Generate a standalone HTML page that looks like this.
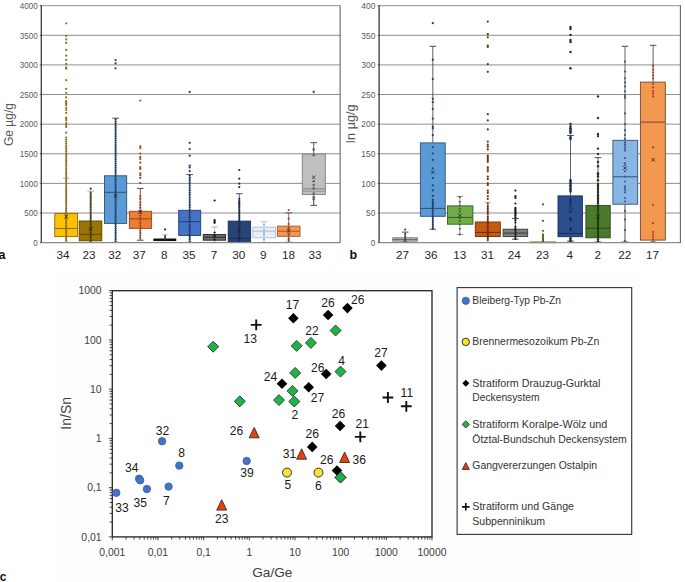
<!DOCTYPE html>
<html><head><meta charset="utf-8"><title>Ge In Ga/Ge charts</title>
<style>
html,body{margin:0;padding:0;background:#fff;width:685px;height:582px;overflow:hidden;}
svg{display:block;font-family:"Liberation Sans", sans-serif;}
</style></head><body>
<svg width="685" height="582" viewBox="0 0 685 582">
<rect x="0" y="0" width="685" height="582" fill="#fff"/>
<rect x="58" y="273.7" width="582.3" height="309" fill="#fdfdfd"/>

<line x1="41.3" y1="5.7" x2="340.1" y2="5.7" stroke="#8f8f8f" stroke-width="1"/>
<line x1="41.3" y1="35.31" x2="340.1" y2="35.31" stroke="#8f8f8f" stroke-width="1"/>
<line x1="41.3" y1="64.92" x2="340.1" y2="64.92" stroke="#8f8f8f" stroke-width="1"/>
<line x1="41.3" y1="94.54" x2="340.1" y2="94.54" stroke="#8f8f8f" stroke-width="1"/>
<line x1="41.3" y1="124.15" x2="340.1" y2="124.15" stroke="#8f8f8f" stroke-width="1"/>
<line x1="41.3" y1="153.76" x2="340.1" y2="153.76" stroke="#8f8f8f" stroke-width="1"/>
<line x1="41.3" y1="183.38" x2="340.1" y2="183.38" stroke="#8f8f8f" stroke-width="1"/>
<line x1="41.3" y1="212.99" x2="340.1" y2="212.99" stroke="#8f8f8f" stroke-width="1"/>
<text x="37.8" y="9" font-size="8.8" fill="#595959" text-anchor="end" textLength="18.01" lengthAdjust="spacingAndGlyphs">4000</text>
<line x1="39.8" y1="5.7" x2="41.3" y2="5.7" stroke="#404040" stroke-width="0.9"/>
<text x="37.8" y="38.61" font-size="8.8" fill="#595959" text-anchor="end" textLength="18.01" lengthAdjust="spacingAndGlyphs">3500</text>
<line x1="39.8" y1="35.31" x2="41.3" y2="35.31" stroke="#404040" stroke-width="0.9"/>
<text x="37.8" y="68.22" font-size="8.8" fill="#595959" text-anchor="end" textLength="18.01" lengthAdjust="spacingAndGlyphs">3000</text>
<line x1="39.8" y1="64.92" x2="41.3" y2="64.92" stroke="#404040" stroke-width="0.9"/>
<text x="37.8" y="97.84" font-size="8.8" fill="#595959" text-anchor="end" textLength="18.01" lengthAdjust="spacingAndGlyphs">2500</text>
<line x1="39.8" y1="94.54" x2="41.3" y2="94.54" stroke="#404040" stroke-width="0.9"/>
<text x="37.8" y="127.45" font-size="8.8" fill="#595959" text-anchor="end" textLength="18.01" lengthAdjust="spacingAndGlyphs">2000</text>
<line x1="39.8" y1="124.15" x2="41.3" y2="124.15" stroke="#404040" stroke-width="0.9"/>
<text x="37.8" y="157.06" font-size="8.8" fill="#595959" text-anchor="end" textLength="18.01" lengthAdjust="spacingAndGlyphs">1500</text>
<line x1="39.8" y1="153.76" x2="41.3" y2="153.76" stroke="#404040" stroke-width="0.9"/>
<text x="37.8" y="186.68" font-size="8.8" fill="#595959" text-anchor="end" textLength="18.01" lengthAdjust="spacingAndGlyphs">1000</text>
<line x1="39.8" y1="183.38" x2="41.3" y2="183.38" stroke="#404040" stroke-width="0.9"/>
<text x="37.8" y="216.29" font-size="8.8" fill="#595959" text-anchor="end" textLength="13.5" lengthAdjust="spacingAndGlyphs">500</text>
<line x1="39.8" y1="212.99" x2="41.3" y2="212.99" stroke="#404040" stroke-width="0.9"/>
<text x="37.8" y="245.9" font-size="8.8" fill="#595959" text-anchor="end" textLength="4.5" lengthAdjust="spacingAndGlyphs">0</text>
<line x1="39.8" y1="242.6" x2="41.3" y2="242.6" stroke="#404040" stroke-width="0.9"/>
<line x1="66.2" y1="178.1" x2="66.2" y2="213.5" stroke="#a8a8a8" stroke-width="0.8"/>
<line x1="62.9" y1="178.1" x2="69.5" y2="178.1" stroke="#a8a8a8" stroke-width="0.9"/>
<line x1="66.2" y1="236.6" x2="66.2" y2="242.4" stroke="#a8a8a8" stroke-width="0.9"/>
<line x1="62.9" y1="242.4" x2="69.5" y2="242.4" stroke="#a8a8a8" stroke-width="0.9"/>
<rect x="54.8" y="213.5" width="22.8" height="23.1" fill="#FFC000" stroke="#8A6A10" stroke-width="0.9"/>
<line x1="54.8" y1="228.5" x2="77.6" y2="228.5" stroke="#8A6A10" stroke-width="1"/>
<circle cx="66.2" cy="23.3" r="1.1" fill="#8B6E1E"/>
<circle cx="66.2" cy="35.9" r="1.1" fill="#8B6E1E"/>
<circle cx="66.2" cy="39.4" r="1.1" fill="#8B6E1E"/>
<circle cx="66.2" cy="42.9" r="1.1" fill="#8B6E1E"/>
<circle cx="66.2" cy="49.9" r="1.1" fill="#8B6E1E"/>
<circle cx="66.2" cy="55.7" r="1.1" fill="#8B6E1E"/>
<circle cx="66.2" cy="59.9" r="1.1" fill="#8B6E1E"/>
<circle cx="66.2" cy="63.9" r="1.1" fill="#8B6E1E"/>
<circle cx="66.2" cy="67.4" r="1.1" fill="#8B6E1E"/>
<circle cx="66.2" cy="68.7" r="1.1" fill="#8B6E1E"/>
<circle cx="66.2" cy="80.2" r="1.1" fill="#8B6E1E"/>
<circle cx="66.2" cy="88.8" r="1.1" fill="#8B6E1E"/>
<circle cx="66.2" cy="92.8" r="1.1" fill="#8B6E1E"/>
<circle cx="66.2" cy="97.4" r="1.1" fill="#8B6E1E"/>
<circle cx="66.2" cy="101.1" r="1.1" fill="#8B6E1E"/>
<circle cx="66.2" cy="102.4" r="1.1" fill="#8B6E1E"/>
<circle cx="66.2" cy="103.8" r="1.1" fill="#8B6E1E"/>
<circle cx="66.2" cy="105.2" r="1.1" fill="#8B6E1E"/>
<circle cx="66.2" cy="107.9" r="1.1" fill="#8B6E1E"/>
<circle cx="66.2" cy="110" r="1.1" fill="#8B6E1E"/>
<circle cx="66.2" cy="112.8" r="1.1" fill="#8B6E1E"/>
<circle cx="66.2" cy="117.6" r="1.1" fill="#8B6E1E"/>
<circle cx="66.2" cy="119" r="1.1" fill="#8B6E1E"/>
<circle cx="66.2" cy="120.3" r="1.1" fill="#8B6E1E"/>
<circle cx="66.2" cy="123.1" r="1.1" fill="#8B6E1E"/>
<circle cx="66.2" cy="124.9" r="1.1" fill="#8B6E1E"/>
<circle cx="66.2" cy="126.9" r="1.1" fill="#8B6E1E"/>
<circle cx="66.2" cy="132.7" r="1.1" fill="#8B6E1E"/>
<circle cx="66.2" cy="137.5" r="1.1" fill="#8B6E1E"/>
<circle cx="66.2" cy="139.6" r="1.1" fill="#8B6E1E"/>
<circle cx="66.2" cy="141.6" r="1.1" fill="#8B6E1E"/>
<circle cx="66.2" cy="143.7" r="1.1" fill="#8B6E1E"/>
<circle cx="66.2" cy="145.8" r="1.1" fill="#8B6E1E"/>
<circle cx="66.2" cy="147.8" r="1.1" fill="#8B6E1E"/>
<circle cx="66.2" cy="149.5" r="1.1" fill="#8B6E1E"/>
<circle cx="66.2" cy="151.4" r="1.1" fill="#8B6E1E"/>
<circle cx="66.2" cy="153.3" r="1.1" fill="#8B6E1E"/>
<circle cx="66.2" cy="155.2" r="1.1" fill="#8B6E1E"/>
<circle cx="66.2" cy="157.1" r="1.1" fill="#8B6E1E"/>
<circle cx="66.2" cy="159" r="1.1" fill="#8B6E1E"/>
<circle cx="66.2" cy="160.9" r="1.1" fill="#8B6E1E"/>
<circle cx="66.2" cy="162.8" r="1.1" fill="#8B6E1E"/>
<circle cx="66.2" cy="164.7" r="1.1" fill="#8B6E1E"/>
<circle cx="66.2" cy="166.6" r="1.1" fill="#8B6E1E"/>
<circle cx="66.2" cy="168.5" r="1.1" fill="#8B6E1E"/>
<circle cx="66.2" cy="170.4" r="1.1" fill="#8B6E1E"/>
<circle cx="66.2" cy="172.3" r="1.1" fill="#8B6E1E"/>
<circle cx="66.2" cy="174.2" r="1.1" fill="#8B6E1E"/>
<circle cx="66.2" cy="176.1" r="1.1" fill="#8B6E1E"/>
<circle cx="66.2" cy="178" r="1.1" fill="#8B6E1E"/>
<circle cx="66.2" cy="179.9" r="1.1" fill="#8B6E1E"/>
<circle cx="66.2" cy="181.8" r="1.1" fill="#8B6E1E"/>
<circle cx="66.2" cy="183.7" r="1.1" fill="#8B6E1E"/>
<circle cx="66.2" cy="185.6" r="1.1" fill="#8B6E1E"/>
<circle cx="66.2" cy="187.5" r="1.1" fill="#8B6E1E"/>
<circle cx="66.2" cy="189.4" r="1.1" fill="#8B6E1E"/>
<circle cx="66.2" cy="191.3" r="1.1" fill="#8B6E1E"/>
<circle cx="66.2" cy="193.2" r="1.1" fill="#8B6E1E"/>
<circle cx="66.2" cy="195.1" r="1.1" fill="#8B6E1E"/>
<circle cx="66.2" cy="197" r="1.1" fill="#8B6E1E"/>
<circle cx="66.2" cy="198.9" r="1.1" fill="#8B6E1E"/>
<circle cx="66.2" cy="200.8" r="1.1" fill="#8B6E1E"/>
<circle cx="66.2" cy="202.7" r="1.1" fill="#8B6E1E"/>
<circle cx="66.2" cy="204.6" r="1.1" fill="#8B6E1E"/>
<circle cx="66.2" cy="206.5" r="1.1" fill="#8B6E1E"/>
<circle cx="66.2" cy="208.4" r="1.1" fill="#8B6E1E"/>
<circle cx="66.2" cy="210.3" r="1.1" fill="#8B6E1E"/>
<circle cx="66.2" cy="212.2" r="1.1" fill="#8B6E1E"/>
<circle cx="66.2" cy="214.1" r="1.1" fill="#8B6E1E"/>
<circle cx="66.2" cy="216" r="1.1" fill="#8B6E1E"/>
<circle cx="66.2" cy="217.9" r="1.1" fill="#8B6E1E"/>
<circle cx="66.2" cy="219.8" r="1.1" fill="#8B6E1E"/>
<circle cx="66.2" cy="221.7" r="1.1" fill="#8B6E1E"/>
<circle cx="66.2" cy="223.6" r="1.1" fill="#8B6E1E"/>
<circle cx="66.2" cy="225.5" r="1.1" fill="#8B6E1E"/>
<circle cx="66.2" cy="227.4" r="1.1" fill="#8B6E1E"/>
<circle cx="66.2" cy="229.3" r="1.1" fill="#8B6E1E"/>
<circle cx="66.2" cy="231.2" r="1.1" fill="#8B6E1E"/>
<circle cx="66.2" cy="233.1" r="1.1" fill="#8B6E1E"/>
<circle cx="66.2" cy="235" r="1.1" fill="#8B6E1E"/>
<circle cx="66.2" cy="236.9" r="1.1" fill="#8B6E1E"/>
<circle cx="66.2" cy="238.8" r="1.1" fill="#8B6E1E"/>
<circle cx="66.2" cy="240.7" r="1.1" fill="#8B6E1E"/>
<path d="M64.4 214.8L68 218.4M68 214.8L64.4 218.4" stroke="#222" stroke-width="0.8" fill="none"/>
<line x1="90.7" y1="191.1" x2="90.7" y2="221" stroke="#a8a8a8" stroke-width="0.8"/>
<line x1="87.4" y1="191.1" x2="94" y2="191.1" stroke="#a8a8a8" stroke-width="0.9"/>
<line x1="90.7" y1="240.8" x2="90.7" y2="242.4" stroke="#a8a8a8" stroke-width="0.9"/>
<line x1="87.4" y1="242.4" x2="94" y2="242.4" stroke="#a8a8a8" stroke-width="0.9"/>
<rect x="79.2" y="221" width="22.6" height="19.8" fill="#9C7400" stroke="#5A4500" stroke-width="0.9"/>
<line x1="79.2" y1="234.3" x2="101.8" y2="234.3" stroke="#5A4500" stroke-width="1"/>
<circle cx="90.7" cy="188.7" r="1.1" fill="#4E3C10"/>
<circle cx="90.7" cy="192.5" r="1.1" fill="#4E3C10"/>
<circle cx="90.7" cy="194.4" r="1.1" fill="#4E3C10"/>
<circle cx="90.7" cy="196.3" r="1.1" fill="#4E3C10"/>
<circle cx="90.7" cy="198.2" r="1.1" fill="#4E3C10"/>
<circle cx="90.7" cy="200.1" r="1.1" fill="#4E3C10"/>
<circle cx="90.7" cy="202" r="1.1" fill="#4E3C10"/>
<circle cx="90.7" cy="203.9" r="1.1" fill="#4E3C10"/>
<circle cx="90.7" cy="205.8" r="1.1" fill="#4E3C10"/>
<circle cx="90.7" cy="207.7" r="1.1" fill="#4E3C10"/>
<circle cx="90.7" cy="209.6" r="1.1" fill="#4E3C10"/>
<circle cx="90.7" cy="211.5" r="1.1" fill="#4E3C10"/>
<circle cx="90.7" cy="213.4" r="1.1" fill="#4E3C10"/>
<circle cx="90.7" cy="215.3" r="1.1" fill="#4E3C10"/>
<circle cx="90.7" cy="217.2" r="1.1" fill="#4E3C10"/>
<circle cx="90.7" cy="219.1" r="1.1" fill="#4E3C10"/>
<circle cx="90.7" cy="221" r="1.1" fill="#4E3C10"/>
<circle cx="90.7" cy="222.9" r="1.1" fill="#4E3C10"/>
<circle cx="90.7" cy="224.8" r="1.1" fill="#4E3C10"/>
<circle cx="90.7" cy="226.7" r="1.1" fill="#4E3C10"/>
<circle cx="90.7" cy="228.6" r="1.1" fill="#4E3C10"/>
<circle cx="90.7" cy="230.5" r="1.1" fill="#4E3C10"/>
<circle cx="90.7" cy="232.4" r="1.1" fill="#4E3C10"/>
<circle cx="90.7" cy="234.3" r="1.1" fill="#4E3C10"/>
<circle cx="90.7" cy="236.2" r="1.1" fill="#4E3C10"/>
<circle cx="90.7" cy="238.1" r="1.1" fill="#4E3C10"/>
<circle cx="90.7" cy="240" r="1.1" fill="#4E3C10"/>
<circle cx="90.7" cy="241.9" r="1.1" fill="#4E3C10"/>
<path d="M88.9 227.2L92.5 230.8M92.5 227.2L88.9 230.8" stroke="#222" stroke-width="0.8" fill="none"/>
<line x1="115.6" y1="118.2" x2="115.6" y2="175.8" stroke="#3a3a3a" stroke-width="0.8"/>
<line x1="112.3" y1="118.2" x2="118.9" y2="118.2" stroke="#3a3a3a" stroke-width="0.9"/>
<line x1="115.6" y1="223.4" x2="115.6" y2="242.4" stroke="#3a3a3a" stroke-width="0.9"/>
<line x1="112.3" y1="242.4" x2="118.9" y2="242.4" stroke="#3a3a3a" stroke-width="0.9"/>
<rect x="104.5" y="175.8" width="22.2" height="47.6" fill="#5B9BD5" stroke="#2F5070" stroke-width="0.9"/>
<line x1="104.5" y1="192.3" x2="126.7" y2="192.3" stroke="#2F5070" stroke-width="1"/>
<circle cx="115.6" cy="60.1" r="1.1" fill="#23406A"/>
<circle cx="115.6" cy="63.4" r="1.1" fill="#23406A"/>
<circle cx="115.6" cy="68.3" r="1.1" fill="#23406A"/>
<circle cx="115.6" cy="119.5" r="1.1" fill="#23406A"/>
<circle cx="115.6" cy="121.6" r="1.1" fill="#23406A"/>
<circle cx="115.6" cy="123.7" r="1.1" fill="#23406A"/>
<circle cx="115.6" cy="125.8" r="1.1" fill="#23406A"/>
<circle cx="115.6" cy="127.9" r="1.1" fill="#23406A"/>
<circle cx="115.6" cy="130" r="1.1" fill="#23406A"/>
<circle cx="115.6" cy="132.1" r="1.1" fill="#23406A"/>
<circle cx="115.6" cy="134.2" r="1.1" fill="#23406A"/>
<circle cx="115.6" cy="136.3" r="1.1" fill="#23406A"/>
<circle cx="115.6" cy="138.4" r="1.1" fill="#23406A"/>
<circle cx="115.6" cy="140.5" r="1.1" fill="#23406A"/>
<circle cx="115.6" cy="142.6" r="1.1" fill="#23406A"/>
<circle cx="115.6" cy="144.7" r="1.1" fill="#23406A"/>
<circle cx="115.6" cy="146.8" r="1.1" fill="#23406A"/>
<circle cx="115.6" cy="148.9" r="1.1" fill="#23406A"/>
<circle cx="115.6" cy="151" r="1.1" fill="#23406A"/>
<circle cx="115.6" cy="153.1" r="1.1" fill="#23406A"/>
<circle cx="115.6" cy="155.2" r="1.1" fill="#23406A"/>
<circle cx="115.6" cy="157.3" r="1.1" fill="#23406A"/>
<circle cx="115.6" cy="159.4" r="1.1" fill="#23406A"/>
<circle cx="115.6" cy="161.5" r="1.1" fill="#23406A"/>
<circle cx="115.6" cy="163.6" r="1.1" fill="#23406A"/>
<circle cx="115.6" cy="165.7" r="1.1" fill="#23406A"/>
<circle cx="115.6" cy="167.8" r="1.1" fill="#23406A"/>
<circle cx="115.6" cy="169.9" r="1.1" fill="#23406A"/>
<circle cx="115.6" cy="172" r="1.1" fill="#23406A"/>
<circle cx="115.6" cy="174.1" r="1.1" fill="#23406A"/>
<circle cx="115.6" cy="176.2" r="1.1" fill="#23406A"/>
<circle cx="115.6" cy="178.3" r="1.1" fill="#23406A"/>
<circle cx="115.6" cy="180.4" r="1.1" fill="#23406A"/>
<circle cx="115.6" cy="182.5" r="1.1" fill="#23406A"/>
<circle cx="115.6" cy="184.6" r="1.1" fill="#23406A"/>
<circle cx="115.6" cy="186.7" r="1.1" fill="#23406A"/>
<circle cx="115.6" cy="188.8" r="1.1" fill="#23406A"/>
<circle cx="115.6" cy="190.9" r="1.1" fill="#23406A"/>
<circle cx="115.6" cy="193" r="1.1" fill="#23406A"/>
<circle cx="115.6" cy="195.1" r="1.1" fill="#23406A"/>
<circle cx="115.6" cy="197.2" r="1.1" fill="#23406A"/>
<circle cx="115.6" cy="199.3" r="1.1" fill="#23406A"/>
<circle cx="115.6" cy="201.4" r="1.1" fill="#23406A"/>
<circle cx="115.6" cy="203.5" r="1.1" fill="#23406A"/>
<circle cx="115.6" cy="205.6" r="1.1" fill="#23406A"/>
<circle cx="115.6" cy="207.7" r="1.1" fill="#23406A"/>
<circle cx="115.6" cy="209.8" r="1.1" fill="#23406A"/>
<circle cx="115.6" cy="211.9" r="1.1" fill="#23406A"/>
<circle cx="115.6" cy="214" r="1.1" fill="#23406A"/>
<circle cx="115.6" cy="216.1" r="1.1" fill="#23406A"/>
<circle cx="115.6" cy="218.2" r="1.1" fill="#23406A"/>
<circle cx="115.6" cy="220.3" r="1.1" fill="#23406A"/>
<circle cx="115.6" cy="222.4" r="1.1" fill="#23406A"/>
<circle cx="115.6" cy="224.5" r="1.1" fill="#23406A"/>
<circle cx="115.6" cy="226.6" r="1.1" fill="#23406A"/>
<circle cx="115.6" cy="228.7" r="1.1" fill="#23406A"/>
<circle cx="115.6" cy="230.8" r="1.1" fill="#23406A"/>
<circle cx="115.6" cy="232.9" r="1.1" fill="#23406A"/>
<circle cx="115.6" cy="235" r="1.1" fill="#23406A"/>
<circle cx="115.6" cy="237.1" r="1.1" fill="#23406A"/>
<circle cx="115.6" cy="239.2" r="1.1" fill="#23406A"/>
<circle cx="115.6" cy="241.3" r="1.1" fill="#23406A"/>
<path d="M113.8 194L117.4 197.6M117.4 194L113.8 197.6" stroke="#222" stroke-width="0.8" fill="none"/>
<line x1="140.3" y1="188.4" x2="140.3" y2="211.3" stroke="#3a3a3a" stroke-width="0.8"/>
<line x1="137" y1="188.4" x2="143.6" y2="188.4" stroke="#3a3a3a" stroke-width="0.9"/>
<line x1="140.3" y1="228.4" x2="140.3" y2="240.2" stroke="#3a3a3a" stroke-width="0.9"/>
<line x1="137" y1="240.2" x2="143.6" y2="240.2" stroke="#3a3a3a" stroke-width="0.9"/>
<rect x="129.3" y="211.3" width="22.3" height="17.1" fill="#ED7D31" stroke="#8A4A20" stroke-width="0.9"/>
<line x1="129.3" y1="218.9" x2="151.6" y2="218.9" stroke="#8A4A20" stroke-width="1"/>
<circle cx="140.3" cy="100.5" r="1.1" fill="#A04020"/>
<circle cx="140.3" cy="146.3" r="1.1" fill="#A04020"/>
<circle cx="140.3" cy="148.1" r="1.1" fill="#A04020"/>
<circle cx="140.3" cy="153.5" r="1.1" fill="#A04020"/>
<circle cx="140.3" cy="157.1" r="1.1" fill="#A04020"/>
<circle cx="140.3" cy="159" r="1.1" fill="#A04020"/>
<circle cx="140.3" cy="162.6" r="1.1" fill="#A04020"/>
<circle cx="140.3" cy="167.1" r="1.1" fill="#A04020"/>
<circle cx="140.3" cy="168.9" r="1.1" fill="#A04020"/>
<circle cx="140.3" cy="173.4" r="1.1" fill="#A04020"/>
<circle cx="140.3" cy="175.2" r="1.1" fill="#A04020"/>
<circle cx="140.3" cy="177.9" r="1.1" fill="#A04020"/>
<circle cx="140.3" cy="183" r="1.1" fill="#A04020"/>
<circle cx="140.3" cy="196" r="1.1" fill="#A04020"/>
<circle cx="140.3" cy="198.7" r="1.1" fill="#A04020"/>
<circle cx="140.3" cy="202.3" r="1.1" fill="#A04020"/>
<circle cx="140.3" cy="205" r="1.1" fill="#A04020"/>
<circle cx="140.3" cy="207.7" r="1.1" fill="#A04020"/>
<circle cx="140.3" cy="210.5" r="1.1" fill="#A04020"/>
<circle cx="140.3" cy="213" r="1.1" fill="#A04020"/>
<circle cx="140.3" cy="215.5" r="1.1" fill="#A04020"/>
<circle cx="140.3" cy="218" r="1.1" fill="#A04020"/>
<circle cx="140.3" cy="220.5" r="1.1" fill="#A04020"/>
<circle cx="140.3" cy="223" r="1.1" fill="#A04020"/>
<circle cx="140.3" cy="225.5" r="1.1" fill="#A04020"/>
<circle cx="140.3" cy="228" r="1.1" fill="#A04020"/>
<circle cx="140.3" cy="230.5" r="1.1" fill="#A04020"/>
<circle cx="140.3" cy="233" r="1.1" fill="#A04020"/>
<circle cx="140.3" cy="235.5" r="1.1" fill="#A04020"/>
<circle cx="140.3" cy="238" r="1.1" fill="#A04020"/>
<path d="M138.5 210.2L142.1 213.8M142.1 210.2L138.5 213.8" stroke="#222" stroke-width="0.8" fill="none"/>
<line x1="165.1" y1="234.5" x2="165.1" y2="239" stroke="#c8c8c8" stroke-width="0.8"/>
<line x1="161.8" y1="234.5" x2="168.4" y2="234.5" stroke="#c8c8c8" stroke-width="0.9"/>
<line x1="165.1" y1="240.6" x2="165.1" y2="242.6" stroke="#c8c8c8" stroke-width="0.9"/>
<line x1="161.8" y1="242.6" x2="168.4" y2="242.6" stroke="#c8c8c8" stroke-width="0.9"/>
<rect x="153.9" y="239" width="21.9" height="1.6" fill="#1a1a1a" stroke="#000" stroke-width="0.9"/>
<circle cx="165.1" cy="229.4" r="1.1" fill="#333"/>
<circle cx="165.1" cy="236" r="1.1" fill="#333"/>
<circle cx="165.1" cy="238" r="1.1" fill="#333"/>
<circle cx="165.1" cy="240" r="1.1" fill="#333"/>
<line x1="189.7" y1="174.6" x2="189.7" y2="210.3" stroke="#3a3a3a" stroke-width="0.8"/>
<line x1="186.4" y1="174.6" x2="193" y2="174.6" stroke="#3a3a3a" stroke-width="0.9"/>
<line x1="189.7" y1="235.5" x2="189.7" y2="242.4" stroke="#3a3a3a" stroke-width="0.9"/>
<line x1="186.4" y1="242.4" x2="193" y2="242.4" stroke="#3a3a3a" stroke-width="0.9"/>
<rect x="178.7" y="210.3" width="22" height="25.2" fill="#4472C4" stroke="#22407A" stroke-width="0.9"/>
<line x1="178.7" y1="221.7" x2="200.7" y2="221.7" stroke="#22407A" stroke-width="1"/>
<circle cx="189.7" cy="91.9" r="1.1" fill="#1F3864"/>
<circle cx="189.7" cy="142.8" r="1.1" fill="#1F3864"/>
<circle cx="189.7" cy="149.1" r="1.1" fill="#1F3864"/>
<circle cx="189.7" cy="155.7" r="1.1" fill="#1F3864"/>
<circle cx="189.7" cy="165.5" r="1.1" fill="#1F3864"/>
<circle cx="189.7" cy="167.4" r="1.1" fill="#1F3864"/>
<circle cx="189.7" cy="171.2" r="1.1" fill="#1F3864"/>
<circle cx="189.7" cy="175.5" r="1.1" fill="#1F3864"/>
<circle cx="189.7" cy="177.95" r="1.1" fill="#1F3864"/>
<circle cx="189.7" cy="180.4" r="1.1" fill="#1F3864"/>
<circle cx="189.7" cy="182.85" r="1.1" fill="#1F3864"/>
<circle cx="189.7" cy="185.3" r="1.1" fill="#1F3864"/>
<circle cx="189.7" cy="187.75" r="1.1" fill="#1F3864"/>
<circle cx="189.7" cy="190.2" r="1.1" fill="#1F3864"/>
<circle cx="189.7" cy="192.65" r="1.1" fill="#1F3864"/>
<circle cx="189.7" cy="195.1" r="1.1" fill="#1F3864"/>
<circle cx="189.7" cy="197.55" r="1.1" fill="#1F3864"/>
<circle cx="189.7" cy="200" r="1.1" fill="#1F3864"/>
<circle cx="189.7" cy="202.45" r="1.1" fill="#1F3864"/>
<circle cx="189.7" cy="204.9" r="1.1" fill="#1F3864"/>
<circle cx="189.7" cy="207.35" r="1.1" fill="#1F3864"/>
<circle cx="189.7" cy="209.8" r="1.1" fill="#1F3864"/>
<circle cx="189.7" cy="212.25" r="1.1" fill="#1F3864"/>
<circle cx="189.7" cy="214.7" r="1.1" fill="#1F3864"/>
<circle cx="189.7" cy="217.15" r="1.1" fill="#1F3864"/>
<circle cx="189.7" cy="219.6" r="1.1" fill="#1F3864"/>
<circle cx="189.7" cy="222.05" r="1.1" fill="#1F3864"/>
<circle cx="189.7" cy="224.5" r="1.1" fill="#1F3864"/>
<circle cx="189.7" cy="226.95" r="1.1" fill="#1F3864"/>
<circle cx="189.7" cy="229.4" r="1.1" fill="#1F3864"/>
<circle cx="189.7" cy="231.85" r="1.1" fill="#1F3864"/>
<circle cx="189.7" cy="234.3" r="1.1" fill="#1F3864"/>
<circle cx="189.7" cy="236.75" r="1.1" fill="#1F3864"/>
<circle cx="189.7" cy="239.2" r="1.1" fill="#1F3864"/>
<circle cx="189.7" cy="241.65" r="1.1" fill="#1F3864"/>
<line x1="214.6" y1="227" x2="214.6" y2="234.5" stroke="#aaa" stroke-width="0.8"/>
<line x1="211.3" y1="227" x2="217.9" y2="227" stroke="#aaa" stroke-width="0.9"/>
<line x1="214.6" y1="240.2" x2="214.6" y2="242.4" stroke="#aaa" stroke-width="0.9"/>
<line x1="211.3" y1="242.4" x2="217.9" y2="242.4" stroke="#aaa" stroke-width="0.9"/>
<rect x="203.3" y="234.5" width="22.3" height="5.7" fill="#6E6E6E" stroke="#262626" stroke-width="0.9"/>
<line x1="203.3" y1="237.2" x2="225.6" y2="237.2" stroke="#262626" stroke-width="1"/>
<circle cx="214.6" cy="200.5" r="1.1" fill="#111"/>
<circle cx="214.6" cy="220" r="1.1" fill="#111"/>
<circle cx="214.6" cy="221.4" r="1.1" fill="#111"/>
<circle cx="214.6" cy="222.8" r="1.1" fill="#111"/>
<circle cx="214.6" cy="232.5" r="1.1" fill="#111"/>
<circle cx="214.6" cy="236" r="1.1" fill="#111"/>
<circle cx="214.6" cy="239.5" r="1.1" fill="#111"/>
<path d="M212.8 234.6L216.4 238.2M216.4 234.6L212.8 238.2" stroke="#222" stroke-width="0.8" fill="none"/>
<line x1="239.3" y1="193.7" x2="239.3" y2="221.1" stroke="#3a3a3a" stroke-width="0.8"/>
<line x1="236" y1="193.7" x2="242.6" y2="193.7" stroke="#3a3a3a" stroke-width="0.9"/>
<rect x="228.2" y="221.1" width="22.4" height="21.4" fill="#264478" stroke="#1A2F55" stroke-width="0.9"/>
<line x1="228.2" y1="238.3" x2="250.6" y2="238.3" stroke="#1A2F55" stroke-width="1"/>
<circle cx="239.3" cy="170" r="1.1" fill="#1A2A50"/>
<circle cx="239.3" cy="178.7" r="1.1" fill="#1A2A50"/>
<circle cx="239.3" cy="183.7" r="1.1" fill="#1A2A50"/>
<circle cx="239.3" cy="187.1" r="1.1" fill="#1A2A50"/>
<circle cx="239.3" cy="198.8" r="1.1" fill="#1A2A50"/>
<circle cx="239.3" cy="201" r="1.1" fill="#1A2A50"/>
<circle cx="239.3" cy="202.5" r="1.1" fill="#1A2A50"/>
<circle cx="239.3" cy="203.9" r="1.1" fill="#1A2A50"/>
<circle cx="239.3" cy="205.4" r="1.1" fill="#1A2A50"/>
<circle cx="239.3" cy="207.4" r="1.1" fill="#1A2A50"/>
<circle cx="239.3" cy="209.4" r="1.1" fill="#1A2A50"/>
<circle cx="239.3" cy="211.4" r="1.1" fill="#1A2A50"/>
<circle cx="239.3" cy="213.4" r="1.1" fill="#1A2A50"/>
<circle cx="239.3" cy="215.4" r="1.1" fill="#1A2A50"/>
<circle cx="239.3" cy="217.4" r="1.1" fill="#1A2A50"/>
<circle cx="239.3" cy="219.4" r="1.1" fill="#1A2A50"/>
<circle cx="239.3" cy="221.4" r="1.1" fill="#1A2A50"/>
<circle cx="239.3" cy="223.4" r="1.1" fill="#1A2A50"/>
<circle cx="239.3" cy="225.4" r="1.1" fill="#1A2A50"/>
<circle cx="239.3" cy="227.4" r="1.1" fill="#1A2A50"/>
<circle cx="239.3" cy="229.4" r="1.1" fill="#1A2A50"/>
<circle cx="239.3" cy="231.4" r="1.1" fill="#1A2A50"/>
<circle cx="239.3" cy="233.4" r="1.1" fill="#1A2A50"/>
<circle cx="239.3" cy="235.4" r="1.1" fill="#1A2A50"/>
<circle cx="239.3" cy="237.4" r="1.1" fill="#1A2A50"/>
<circle cx="239.3" cy="239.4" r="1.1" fill="#1A2A50"/>
<circle cx="239.3" cy="241.4" r="1.1" fill="#1A2A50"/>
<path d="M237.5 228.9L241.1 232.5M241.1 228.9L237.5 232.5" stroke="#222" stroke-width="0.8" fill="none"/>
<line x1="264" y1="221.7" x2="264" y2="227.1" stroke="#9DC3E6" stroke-width="0.8"/>
<line x1="260.7" y1="221.7" x2="267.3" y2="221.7" stroke="#9DC3E6" stroke-width="0.9"/>
<line x1="264" y1="237.8" x2="264" y2="242.4" stroke="#9DC3E6" stroke-width="0.9"/>
<line x1="260.7" y1="242.4" x2="267.3" y2="242.4" stroke="#9DC3E6" stroke-width="0.9"/>
<rect x="252.8" y="227.1" width="22.8" height="10.7" fill="#EDEDED" stroke="#9DC3E6" stroke-width="0.9"/>
<line x1="252.8" y1="231.2" x2="275.6" y2="231.2" stroke="#9DC3E6" stroke-width="1"/>
<circle cx="264" cy="224.5" r="1.1" fill="#8DB3D6"/>
<circle cx="264" cy="230.1" r="1.1" fill="#8DB3D6"/>
<circle cx="264" cy="232.9" r="1.1" fill="#8DB3D6"/>
<circle cx="264" cy="235.3" r="1.1" fill="#8DB3D6"/>
<circle cx="264" cy="239.5" r="1.1" fill="#8DB3D6"/>
<line x1="288.7" y1="212.9" x2="288.7" y2="226.1" stroke="#555" stroke-width="0.8"/>
<line x1="285.4" y1="212.9" x2="292" y2="212.9" stroke="#555" stroke-width="0.9"/>
<line x1="288.7" y1="236.3" x2="288.7" y2="242.2" stroke="#555" stroke-width="0.9"/>
<line x1="285.4" y1="242.2" x2="292" y2="242.2" stroke="#555" stroke-width="0.9"/>
<rect x="277.4" y="226.1" width="22.6" height="10.2" fill="#F5984F" stroke="#A0582A" stroke-width="0.9"/>
<line x1="277.4" y1="231.2" x2="300" y2="231.2" stroke="#A0582A" stroke-width="1"/>
<circle cx="288.7" cy="210" r="1.1" fill="#A0461A"/>
<circle cx="288.7" cy="218.5" r="1.1" fill="#A0461A"/>
<circle cx="288.7" cy="224.1" r="1.1" fill="#A0461A"/>
<circle cx="288.7" cy="227.3" r="1.1" fill="#A0461A"/>
<circle cx="288.7" cy="228.9" r="1.1" fill="#A0461A"/>
<circle cx="288.7" cy="233.7" r="1.1" fill="#A0461A"/>
<circle cx="288.7" cy="235.3" r="1.1" fill="#A0461A"/>
<circle cx="288.7" cy="238.6" r="1.1" fill="#A0461A"/>
<circle cx="288.7" cy="240.2" r="1.1" fill="#A0461A"/>
<path d="M286.9 229.1L290.5 232.7M290.5 229.1L286.9 232.7" stroke="#222" stroke-width="0.8" fill="none"/>
<line x1="313.7" y1="142.7" x2="313.7" y2="154.1" stroke="#3a3a3a" stroke-width="0.8"/>
<line x1="310.4" y1="142.7" x2="317" y2="142.7" stroke="#3a3a3a" stroke-width="0.9"/>
<line x1="313.7" y1="194.6" x2="313.7" y2="205.4" stroke="#3a3a3a" stroke-width="0.9"/>
<line x1="310.4" y1="205.4" x2="317" y2="205.4" stroke="#3a3a3a" stroke-width="0.9"/>
<rect x="302.3" y="154.1" width="23" height="40.5" fill="#BFBFBF" stroke="#7F7F7F" stroke-width="0.9"/>
<line x1="302.3" y1="188.9" x2="325.3" y2="188.9" stroke="#7F7F7F" stroke-width="1"/>
<circle cx="313.7" cy="91.9" r="1.3" fill="#666"/>
<circle cx="313.7" cy="149.4" r="1.3" fill="#666"/>
<circle cx="313.7" cy="155.3" r="1.3" fill="#666"/>
<circle cx="313.7" cy="181.3" r="1.3" fill="#666"/>
<circle cx="313.7" cy="185" r="1.3" fill="#666"/>
<circle cx="313.7" cy="188.4" r="1.3" fill="#666"/>
<circle cx="313.7" cy="193.6" r="1.3" fill="#666"/>
<circle cx="313.7" cy="197.3" r="1.3" fill="#666"/>
<circle cx="313.7" cy="199.2" r="1.3" fill="#666"/>
<path d="M311.9 175.5L315.5 179.1M315.5 175.5L311.9 179.1" stroke="#222" stroke-width="0.8" fill="none"/>
<line x1="302.3" y1="191.3" x2="325.3" y2="191.3" stroke="#8a8a8a" stroke-width="0.8"/>
<line x1="41.3" y1="5.3" x2="41.3" y2="243" stroke="#3a3a3a" stroke-width="1.3"/>
<line x1="41.3" y1="242.6" x2="340.1" y2="242.6" stroke="#8c8c8c" stroke-width="1.1"/>
<line x1="340.1" y1="5.2" x2="340.1" y2="243.1" stroke="#666" stroke-width="1.1"/>
<text x="63.1" y="258.6" font-size="11.7" fill="#262626" text-anchor="middle">34</text>
<text x="88.9" y="258.6" font-size="11.7" fill="#262626" text-anchor="middle">23</text>
<text x="114.7" y="258.6" font-size="11.7" fill="#262626" text-anchor="middle">32</text>
<text x="139.2" y="258.6" font-size="11.7" fill="#262626" text-anchor="middle">37</text>
<text x="164.2" y="258.6" font-size="11.7" fill="#262626" text-anchor="middle">8</text>
<text x="189" y="258.6" font-size="11.7" fill="#262626" text-anchor="middle">35</text>
<text x="214" y="258.6" font-size="11.7" fill="#262626" text-anchor="middle">7</text>
<text x="238.8" y="258.6" font-size="11.7" fill="#262626" text-anchor="middle">30</text>
<text x="263.3" y="258.6" font-size="11.7" fill="#262626" text-anchor="middle">9</text>
<text x="288.6" y="258.6" font-size="11.7" fill="#262626" text-anchor="middle">18</text>
<text x="315.0" y="258.6" font-size="11.7" fill="#262626" text-anchor="middle">33</text>
<text x="-1.6" y="259.2" font-size="12.5" font-weight="bold" fill="#111">a</text>
<text transform="translate(12.9,124.5) rotate(-90)" font-size="12" fill="#595959" text-anchor="middle">Ge µg/g</text>
<line x1="379.1" y1="5.7" x2="680.4" y2="5.7" stroke="#8f8f8f" stroke-width="1"/>
<line x1="379.1" y1="35.31" x2="680.4" y2="35.31" stroke="#8f8f8f" stroke-width="1"/>
<line x1="379.1" y1="64.92" x2="680.4" y2="64.92" stroke="#8f8f8f" stroke-width="1"/>
<line x1="379.1" y1="94.54" x2="680.4" y2="94.54" stroke="#8f8f8f" stroke-width="1"/>
<line x1="379.1" y1="124.15" x2="680.4" y2="124.15" stroke="#8f8f8f" stroke-width="1"/>
<line x1="379.1" y1="153.76" x2="680.4" y2="153.76" stroke="#8f8f8f" stroke-width="1"/>
<line x1="379.1" y1="183.38" x2="680.4" y2="183.38" stroke="#8f8f8f" stroke-width="1"/>
<line x1="379.1" y1="212.99" x2="680.4" y2="212.99" stroke="#8f8f8f" stroke-width="1"/>
<text x="375.3" y="9" font-size="8.9" fill="#595959" text-anchor="end" textLength="13.95" lengthAdjust="spacingAndGlyphs">400</text>
<line x1="377.7" y1="5.7" x2="379.1" y2="5.7" stroke="#404040" stroke-width="0.9"/>
<text x="375.3" y="38.61" font-size="8.9" fill="#595959" text-anchor="end" textLength="13.95" lengthAdjust="spacingAndGlyphs">350</text>
<line x1="377.7" y1="35.31" x2="379.1" y2="35.31" stroke="#404040" stroke-width="0.9"/>
<text x="375.3" y="68.22" font-size="8.9" fill="#595959" text-anchor="end" textLength="13.95" lengthAdjust="spacingAndGlyphs">300</text>
<line x1="377.7" y1="64.92" x2="379.1" y2="64.92" stroke="#404040" stroke-width="0.9"/>
<text x="375.3" y="97.84" font-size="8.9" fill="#595959" text-anchor="end" textLength="13.95" lengthAdjust="spacingAndGlyphs">250</text>
<line x1="377.7" y1="94.54" x2="379.1" y2="94.54" stroke="#404040" stroke-width="0.9"/>
<text x="375.3" y="127.45" font-size="8.9" fill="#595959" text-anchor="end" textLength="13.95" lengthAdjust="spacingAndGlyphs">200</text>
<line x1="377.7" y1="124.15" x2="379.1" y2="124.15" stroke="#404040" stroke-width="0.9"/>
<text x="375.3" y="157.06" font-size="8.9" fill="#595959" text-anchor="end" textLength="13.95" lengthAdjust="spacingAndGlyphs">150</text>
<line x1="377.7" y1="153.76" x2="379.1" y2="153.76" stroke="#404040" stroke-width="0.9"/>
<text x="375.3" y="186.68" font-size="8.9" fill="#595959" text-anchor="end" textLength="13.95" lengthAdjust="spacingAndGlyphs">100</text>
<line x1="377.7" y1="183.38" x2="379.1" y2="183.38" stroke="#404040" stroke-width="0.9"/>
<text x="375.3" y="216.29" font-size="8.9" fill="#595959" text-anchor="end" textLength="9.3" lengthAdjust="spacingAndGlyphs">50</text>
<line x1="377.7" y1="212.99" x2="379.1" y2="212.99" stroke="#404040" stroke-width="0.9"/>
<text x="375.3" y="245.9" font-size="8.9" fill="#595959" text-anchor="end" textLength="4.65" lengthAdjust="spacingAndGlyphs">0</text>
<line x1="377.7" y1="242.6" x2="379.1" y2="242.6" stroke="#404040" stroke-width="0.9"/>
<line x1="405.2" y1="232.1" x2="405.2" y2="237.8" stroke="#3a3a3a" stroke-width="0.8"/>
<line x1="401.9" y1="232.1" x2="408.5" y2="232.1" stroke="#3a3a3a" stroke-width="0.9"/>
<line x1="405.2" y1="241.1" x2="405.2" y2="242.2" stroke="#3a3a3a" stroke-width="0.9"/>
<line x1="401.9" y1="242.2" x2="408.5" y2="242.2" stroke="#3a3a3a" stroke-width="0.9"/>
<rect x="392.8" y="237.8" width="24.5" height="3.3" fill="#BDBDBD" stroke="#6F6F6F" stroke-width="0.9"/>
<line x1="392.8" y1="239.5" x2="417.3" y2="239.5" stroke="#6F6F6F" stroke-width="1"/>
<circle cx="405.2" cy="229.5" r="1.1" fill="#404040"/>
<circle cx="405.2" cy="234" r="1.1" fill="#404040"/>
<circle cx="405.2" cy="236.5" r="1.1" fill="#404040"/>
<circle cx="405.2" cy="239" r="1.1" fill="#404040"/>
<circle cx="405.2" cy="241" r="1.1" fill="#404040"/>
<line x1="432.8" y1="46.3" x2="432.8" y2="142.9" stroke="#3a3a3a" stroke-width="0.8"/>
<line x1="429.5" y1="46.3" x2="436.1" y2="46.3" stroke="#3a3a3a" stroke-width="0.9"/>
<line x1="432.8" y1="216.3" x2="432.8" y2="229.2" stroke="#3a3a3a" stroke-width="0.9"/>
<line x1="429.5" y1="229.2" x2="436.1" y2="229.2" stroke="#3a3a3a" stroke-width="0.9"/>
<rect x="420.4" y="142.9" width="24.8" height="73.4" fill="#5B9BD5" stroke="#2F5070" stroke-width="0.9"/>
<line x1="420.4" y1="208.4" x2="445.2" y2="208.4" stroke="#2F5070" stroke-width="1"/>
<circle cx="432.8" cy="23.2" r="1.1" fill="#23406A"/>
<circle cx="432.8" cy="59.7" r="1.1" fill="#23406A"/>
<circle cx="432.8" cy="79.1" r="1.1" fill="#23406A"/>
<circle cx="432.8" cy="98.8" r="1.1" fill="#23406A"/>
<circle cx="432.8" cy="102.1" r="1.1" fill="#23406A"/>
<circle cx="432.8" cy="109" r="1.1" fill="#23406A"/>
<circle cx="432.8" cy="118.6" r="1.1" fill="#23406A"/>
<circle cx="432.8" cy="126.6" r="1.1" fill="#23406A"/>
<circle cx="432.8" cy="128.3" r="1.1" fill="#23406A"/>
<circle cx="432.8" cy="135.2" r="1.1" fill="#23406A"/>
<circle cx="432.8" cy="147" r="1.1" fill="#23406A"/>
<circle cx="432.8" cy="153.5" r="1.1" fill="#23406A"/>
<circle cx="432.8" cy="159.9" r="1.1" fill="#23406A"/>
<circle cx="432.8" cy="168.4" r="1.1" fill="#23406A"/>
<circle cx="432.8" cy="178.2" r="1.1" fill="#23406A"/>
<circle cx="432.8" cy="185.3" r="1.1" fill="#23406A"/>
<circle cx="432.8" cy="190.4" r="1.1" fill="#23406A"/>
<circle cx="432.8" cy="195.9" r="1.1" fill="#23406A"/>
<circle cx="432.8" cy="199.8" r="1.1" fill="#23406A"/>
<circle cx="432.8" cy="201.9" r="1.1" fill="#23406A"/>
<circle cx="432.8" cy="203.6" r="1.1" fill="#23406A"/>
<circle cx="432.8" cy="205.3" r="1.1" fill="#23406A"/>
<circle cx="432.8" cy="207" r="1.1" fill="#23406A"/>
<circle cx="432.8" cy="208.8" r="1.1" fill="#23406A"/>
<circle cx="432.8" cy="210.8" r="1.1" fill="#23406A"/>
<circle cx="432.8" cy="212.8" r="1.1" fill="#23406A"/>
<circle cx="432.8" cy="214.8" r="1.1" fill="#23406A"/>
<circle cx="432.8" cy="216.8" r="1.1" fill="#23406A"/>
<circle cx="432.8" cy="218.8" r="1.1" fill="#23406A"/>
<circle cx="432.8" cy="220.8" r="1.1" fill="#23406A"/>
<circle cx="432.8" cy="222.8" r="1.1" fill="#23406A"/>
<circle cx="432.8" cy="224.8" r="1.1" fill="#23406A"/>
<circle cx="432.8" cy="226.8" r="1.1" fill="#23406A"/>
<circle cx="432.8" cy="228.8" r="1.1" fill="#23406A"/>
<path d="M431 170.6L434.6 174.2M434.6 170.6L431 174.2" stroke="#222" stroke-width="0.8" fill="none"/>
<line x1="459.8" y1="196.4" x2="459.8" y2="205.9" stroke="#8a8a8a" stroke-width="0.8"/>
<line x1="456.5" y1="196.4" x2="463.1" y2="196.4" stroke="#8a8a8a" stroke-width="0.9"/>
<line x1="459.8" y1="224.2" x2="459.8" y2="234.6" stroke="#8a8a8a" stroke-width="0.9"/>
<line x1="456.5" y1="234.6" x2="463.1" y2="234.6" stroke="#8a8a8a" stroke-width="0.9"/>
<rect x="447.4" y="205.9" width="25.5" height="18.3" fill="#70AD47" stroke="#3A5A25" stroke-width="0.9"/>
<line x1="447.4" y1="217.4" x2="472.9" y2="217.4" stroke="#3A5A25" stroke-width="1"/>
<circle cx="459.8" cy="197.1" r="1.1" fill="#3C6E28"/>
<circle cx="459.8" cy="201.8" r="1.1" fill="#3C6E28"/>
<circle cx="459.8" cy="205.6" r="1.1" fill="#3C6E28"/>
<circle cx="459.8" cy="208.9" r="1.1" fill="#3C6E28"/>
<circle cx="459.8" cy="211.7" r="1.1" fill="#3C6E28"/>
<circle cx="459.8" cy="218.4" r="1.1" fill="#3C6E28"/>
<circle cx="459.8" cy="221.2" r="1.1" fill="#3C6E28"/>
<circle cx="459.8" cy="224.5" r="1.1" fill="#3C6E28"/>
<circle cx="459.8" cy="228.8" r="1.1" fill="#3C6E28"/>
<circle cx="459.8" cy="234.4" r="1.1" fill="#3C6E28"/>
<path d="M458 213.7L461.6 217.3M461.6 213.7L458 217.3" stroke="#222" stroke-width="0.8" fill="none"/>
<line x1="487.8" y1="202.2" x2="487.8" y2="222" stroke="#b0b0b0" stroke-width="0.8"/>
<line x1="484.5" y1="202.2" x2="491.1" y2="202.2" stroke="#b0b0b0" stroke-width="0.9"/>
<line x1="487.8" y1="236.5" x2="487.8" y2="242.5" stroke="#b0b0b0" stroke-width="0.9"/>
<line x1="484.5" y1="242.5" x2="491.1" y2="242.5" stroke="#b0b0b0" stroke-width="0.9"/>
<rect x="475.3" y="222" width="25" height="14.5" fill="#C55A11" stroke="#6A300A" stroke-width="0.9"/>
<line x1="475.3" y1="232.4" x2="500.3" y2="232.4" stroke="#6A300A" stroke-width="1"/>
<circle cx="487.8" cy="21.6" r="1.1" fill="#6B2A0A"/>
<circle cx="487.8" cy="34.2" r="1.1" fill="#6B2A0A"/>
<circle cx="487.8" cy="37.3" r="1.1" fill="#6B2A0A"/>
<circle cx="487.8" cy="45.6" r="1.1" fill="#6B2A0A"/>
<circle cx="487.8" cy="47" r="1.1" fill="#6B2A0A"/>
<circle cx="487.8" cy="64.2" r="1.1" fill="#6B2A0A"/>
<circle cx="487.8" cy="71.8" r="1.1" fill="#6B2A0A"/>
<circle cx="487.8" cy="114.2" r="1.1" fill="#6B2A0A"/>
<circle cx="487.8" cy="120.4" r="1.1" fill="#6B2A0A"/>
<circle cx="487.8" cy="129.4" r="1.1" fill="#6B2A0A"/>
<circle cx="487.8" cy="141.5" r="1.1" fill="#6B2A0A"/>
<circle cx="487.8" cy="144.6" r="1.1" fill="#6B2A0A"/>
<circle cx="487.8" cy="146.7" r="1.1" fill="#6B2A0A"/>
<circle cx="487.8" cy="149.4" r="1.1" fill="#6B2A0A"/>
<circle cx="487.8" cy="155.6" r="1.1" fill="#6B2A0A"/>
<circle cx="487.8" cy="157" r="1.1" fill="#6B2A0A"/>
<circle cx="487.8" cy="158.5" r="1.1" fill="#6B2A0A"/>
<circle cx="487.8" cy="160.1" r="1.1" fill="#6B2A0A"/>
<circle cx="487.8" cy="161.8" r="1.1" fill="#6B2A0A"/>
<circle cx="487.8" cy="167.4" r="1.1" fill="#6B2A0A"/>
<circle cx="487.8" cy="169.4" r="1.1" fill="#6B2A0A"/>
<circle cx="487.8" cy="171.5" r="1.1" fill="#6B2A0A"/>
<circle cx="487.8" cy="176.7" r="1.1" fill="#6B2A0A"/>
<circle cx="487.8" cy="179.1" r="1.1" fill="#6B2A0A"/>
<circle cx="487.8" cy="183.3" r="1.1" fill="#6B2A0A"/>
<circle cx="487.8" cy="184.9" r="1.1" fill="#6B2A0A"/>
<circle cx="487.8" cy="190.7" r="1.1" fill="#6B2A0A"/>
<circle cx="487.8" cy="192.8" r="1.1" fill="#6B2A0A"/>
<circle cx="487.8" cy="196.3" r="1.1" fill="#6B2A0A"/>
<circle cx="487.8" cy="199" r="1.1" fill="#6B2A0A"/>
<circle cx="487.8" cy="203.5" r="1.1" fill="#6B2A0A"/>
<circle cx="487.8" cy="206" r="1.1" fill="#6B2A0A"/>
<circle cx="487.8" cy="208.1" r="1.1" fill="#6B2A0A"/>
<circle cx="487.8" cy="210.1" r="1.1" fill="#6B2A0A"/>
<circle cx="487.8" cy="212.2" r="1.1" fill="#6B2A0A"/>
<circle cx="487.8" cy="214.3" r="1.1" fill="#6B2A0A"/>
<circle cx="487.8" cy="216.9" r="1.1" fill="#6B2A0A"/>
<circle cx="487.8" cy="219" r="1.1" fill="#6B2A0A"/>
<circle cx="487.8" cy="221.1" r="1.1" fill="#6B2A0A"/>
<circle cx="487.8" cy="223.2" r="1.1" fill="#6B2A0A"/>
<circle cx="487.8" cy="225.3" r="1.1" fill="#6B2A0A"/>
<circle cx="487.8" cy="227.4" r="1.1" fill="#6B2A0A"/>
<circle cx="487.8" cy="229.5" r="1.1" fill="#6B2A0A"/>
<circle cx="487.8" cy="231.6" r="1.1" fill="#6B2A0A"/>
<circle cx="487.8" cy="233.7" r="1.1" fill="#6B2A0A"/>
<circle cx="487.8" cy="235.8" r="1.1" fill="#6B2A0A"/>
<circle cx="487.8" cy="237.9" r="1.1" fill="#6B2A0A"/>
<circle cx="487.8" cy="240" r="1.1" fill="#6B2A0A"/>
<line x1="515.4" y1="218.5" x2="515.4" y2="229.2" stroke="#3a3a3a" stroke-width="0.8"/>
<line x1="512.1" y1="218.5" x2="518.7" y2="218.5" stroke="#3a3a3a" stroke-width="0.9"/>
<line x1="515.4" y1="236.6" x2="515.4" y2="239.2" stroke="#3a3a3a" stroke-width="0.9"/>
<line x1="512.1" y1="239.2" x2="518.7" y2="239.2" stroke="#3a3a3a" stroke-width="0.9"/>
<rect x="503.1" y="229.2" width="24.6" height="7.4" fill="#7F7F7F" stroke="#3A3A3A" stroke-width="0.9"/>
<line x1="503.1" y1="233.1" x2="527.7" y2="233.1" stroke="#3A3A3A" stroke-width="1"/>
<circle cx="515.4" cy="190.6" r="1.1" fill="#1a1a1a"/>
<circle cx="515.4" cy="196.2" r="1.1" fill="#1a1a1a"/>
<circle cx="515.4" cy="197.9" r="1.1" fill="#1a1a1a"/>
<circle cx="515.4" cy="203.5" r="1.1" fill="#1a1a1a"/>
<circle cx="515.4" cy="207.9" r="1.1" fill="#1a1a1a"/>
<circle cx="515.4" cy="209" r="1.1" fill="#1a1a1a"/>
<circle cx="515.4" cy="210.2" r="1.1" fill="#1a1a1a"/>
<circle cx="515.4" cy="211.3" r="1.1" fill="#1a1a1a"/>
<circle cx="515.4" cy="212.4" r="1.1" fill="#1a1a1a"/>
<circle cx="515.4" cy="213.5" r="1.1" fill="#1a1a1a"/>
<circle cx="515.4" cy="214.6" r="1.1" fill="#1a1a1a"/>
<circle cx="515.4" cy="215.8" r="1.1" fill="#1a1a1a"/>
<circle cx="515.4" cy="217.4" r="1.1" fill="#1a1a1a"/>
<circle cx="515.4" cy="220.2" r="1.1" fill="#1a1a1a"/>
<circle cx="515.4" cy="222.5" r="1.1" fill="#1a1a1a"/>
<circle cx="515.4" cy="226.9" r="1.1" fill="#1a1a1a"/>
<circle cx="515.4" cy="229.2" r="1.1" fill="#1a1a1a"/>
<circle cx="515.4" cy="230.8" r="1.1" fill="#1a1a1a"/>
<circle cx="515.4" cy="232.5" r="1.1" fill="#1a1a1a"/>
<circle cx="515.4" cy="234.7" r="1.1" fill="#1a1a1a"/>
<circle cx="515.4" cy="237" r="1.1" fill="#1a1a1a"/>
<circle cx="515.4" cy="239" r="1.1" fill="#1a1a1a"/>
<rect x="530.2" y="241.9" width="25.7" height="0.8" fill="#A89050" stroke="#8A7A50" stroke-width="0.9"/>
<circle cx="543" cy="204.4" r="1.1" fill="#6B5A20"/>
<circle cx="543" cy="220.8" r="1.1" fill="#6B5A20"/>
<circle cx="543" cy="230.8" r="1.1" fill="#6B5A20"/>
<circle cx="543" cy="234.7" r="1.1" fill="#6B5A20"/>
<circle cx="543" cy="235.9" r="1.1" fill="#6B5A20"/>
<circle cx="543" cy="237" r="1.1" fill="#6B5A20"/>
<circle cx="543" cy="238.1" r="1.1" fill="#6B5A20"/>
<circle cx="543" cy="239.2" r="1.1" fill="#6B5A20"/>
<circle cx="543" cy="240.3" r="1.1" fill="#6B5A20"/>
<circle cx="543" cy="241.5" r="1.1" fill="#6B5A20"/>
<line x1="570.5" y1="135.5" x2="570.5" y2="195.9" stroke="#3a3a3a" stroke-width="0.8"/>
<line x1="567.2" y1="135.5" x2="573.8" y2="135.5" stroke="#3a3a3a" stroke-width="0.9"/>
<line x1="570.5" y1="236.7" x2="570.5" y2="241.1" stroke="#3a3a3a" stroke-width="0.9"/>
<line x1="567.2" y1="241.1" x2="573.8" y2="241.1" stroke="#3a3a3a" stroke-width="0.9"/>
<rect x="558" y="195.9" width="24.4" height="40.8" fill="#2A4F8F" stroke="#1A2D50" stroke-width="0.9"/>
<line x1="558" y1="233.5" x2="582.4" y2="233.5" stroke="#1A2D50" stroke-width="1"/>
<circle cx="570.5" cy="27" r="1.25" fill="#1A2D50"/>
<circle cx="570.5" cy="28.9" r="1.25" fill="#1A2D50"/>
<circle cx="570.5" cy="35.1" r="1.25" fill="#1A2D50"/>
<circle cx="570.5" cy="40" r="1.25" fill="#1A2D50"/>
<circle cx="570.5" cy="41.9" r="1.25" fill="#1A2D50"/>
<circle cx="570.5" cy="52.1" r="1.25" fill="#1A2D50"/>
<circle cx="570.5" cy="68.3" r="1.25" fill="#1A2D50"/>
<circle cx="570.5" cy="123.9" r="1.25" fill="#1A2D50"/>
<circle cx="570.5" cy="126.5" r="1.25" fill="#1A2D50"/>
<circle cx="570.5" cy="128.2" r="1.25" fill="#1A2D50"/>
<circle cx="570.5" cy="129.7" r="1.25" fill="#1A2D50"/>
<circle cx="570.5" cy="131.2" r="1.25" fill="#1A2D50"/>
<circle cx="570.5" cy="132.9" r="1.25" fill="#1A2D50"/>
<circle cx="570.5" cy="137.2" r="1.25" fill="#1A2D50"/>
<circle cx="570.5" cy="138.9" r="1.25" fill="#1A2D50"/>
<circle cx="570.5" cy="180.2" r="1.25" fill="#1A2D50"/>
<circle cx="570.5" cy="181.9" r="1.25" fill="#1A2D50"/>
<circle cx="570.5" cy="183.4" r="1.25" fill="#1A2D50"/>
<circle cx="570.5" cy="185.2" r="1.25" fill="#1A2D50"/>
<circle cx="570.5" cy="186.7" r="1.25" fill="#1A2D50"/>
<circle cx="570.5" cy="188.4" r="1.25" fill="#1A2D50"/>
<circle cx="570.5" cy="189.9" r="1.25" fill="#1A2D50"/>
<circle cx="570.5" cy="191.6" r="1.25" fill="#1A2D50"/>
<circle cx="570.5" cy="199.1" r="1.25" fill="#1A2D50"/>
<circle cx="570.5" cy="201.3" r="1.25" fill="#1A2D50"/>
<circle cx="570.5" cy="203.9" r="1.25" fill="#1A2D50"/>
<circle cx="570.5" cy="211.4" r="1.25" fill="#1A2D50"/>
<circle cx="570.5" cy="218.5" r="1.25" fill="#1A2D50"/>
<circle cx="570.5" cy="220" r="1.25" fill="#1A2D50"/>
<circle cx="570.5" cy="228.6" r="1.25" fill="#1A2D50"/>
<circle cx="570.5" cy="229.7" r="1.25" fill="#1A2D50"/>
<circle cx="570.5" cy="238.3" r="1.25" fill="#1A2D50"/>
<circle cx="570.5" cy="240" r="1.25" fill="#1A2D50"/>
<circle cx="570.5" cy="241.5" r="1.25" fill="#1A2D50"/>
<path d="M568.7 205.9L572.3 209.5M572.3 205.9L568.7 209.5" stroke="#222" stroke-width="0.8" fill="none"/>
<line x1="598" y1="157.6" x2="598" y2="205.4" stroke="#3a3a3a" stroke-width="0.8"/>
<line x1="594.7" y1="157.6" x2="601.3" y2="157.6" stroke="#3a3a3a" stroke-width="0.9"/>
<line x1="598" y1="237.8" x2="598" y2="242" stroke="#3a3a3a" stroke-width="0.9"/>
<line x1="594.7" y1="242" x2="601.3" y2="242" stroke="#3a3a3a" stroke-width="0.9"/>
<rect x="585.9" y="205.4" width="24.3" height="32.4" fill="#4B7A2C" stroke="#2A4418" stroke-width="0.9"/>
<line x1="585.9" y1="228.2" x2="610.2" y2="228.2" stroke="#2A4418" stroke-width="1"/>
<circle cx="598" cy="96.4" r="1.2" fill="#223A14"/>
<circle cx="598" cy="118" r="1.2" fill="#223A14"/>
<circle cx="598" cy="134" r="1.2" fill="#223A14"/>
<circle cx="598" cy="136.1" r="1.2" fill="#223A14"/>
<circle cx="598" cy="148.6" r="1.2" fill="#223A14"/>
<circle cx="598" cy="154" r="1.2" fill="#223A14"/>
<circle cx="598" cy="162" r="1.2" fill="#223A14"/>
<circle cx="598" cy="166.2" r="1.2" fill="#223A14"/>
<circle cx="598" cy="173.3" r="1.2" fill="#223A14"/>
<circle cx="598" cy="174.8" r="1.2" fill="#223A14"/>
<circle cx="598" cy="176.6" r="1.2" fill="#223A14"/>
<circle cx="598" cy="180.2" r="1.2" fill="#223A14"/>
<circle cx="598" cy="184.1" r="1.2" fill="#223A14"/>
<circle cx="598" cy="185.6" r="1.2" fill="#223A14"/>
<circle cx="598" cy="187.1" r="1.2" fill="#223A14"/>
<circle cx="598" cy="188.8" r="1.2" fill="#223A14"/>
<circle cx="598" cy="191" r="1.2" fill="#223A14"/>
<circle cx="598" cy="193" r="1.2" fill="#223A14"/>
<circle cx="598" cy="195.3" r="1.2" fill="#223A14"/>
<circle cx="598" cy="197" r="1.2" fill="#223A14"/>
<circle cx="598" cy="198.5" r="1.2" fill="#223A14"/>
<circle cx="598" cy="200" r="1.2" fill="#223A14"/>
<circle cx="598" cy="201.7" r="1.2" fill="#223A14"/>
<circle cx="598" cy="203.4" r="1.2" fill="#223A14"/>
<circle cx="598" cy="206" r="1.2" fill="#223A14"/>
<circle cx="598" cy="208" r="1.2" fill="#223A14"/>
<circle cx="598" cy="210.3" r="1.2" fill="#223A14"/>
<circle cx="598" cy="212.5" r="1.2" fill="#223A14"/>
<circle cx="598" cy="214.6" r="1.2" fill="#223A14"/>
<circle cx="598" cy="217" r="1.2" fill="#223A14"/>
<circle cx="598" cy="219" r="1.2" fill="#223A14"/>
<circle cx="598" cy="221" r="1.2" fill="#223A14"/>
<circle cx="598" cy="223" r="1.2" fill="#223A14"/>
<circle cx="598" cy="225" r="1.2" fill="#223A14"/>
<circle cx="598" cy="227" r="1.2" fill="#223A14"/>
<circle cx="598" cy="229" r="1.2" fill="#223A14"/>
<circle cx="598" cy="231" r="1.2" fill="#223A14"/>
<circle cx="598" cy="233" r="1.2" fill="#223A14"/>
<circle cx="598" cy="235" r="1.2" fill="#223A14"/>
<circle cx="598" cy="237" r="1.2" fill="#223A14"/>
<circle cx="598" cy="239.5" r="1.2" fill="#223A14"/>
<circle cx="598" cy="241.5" r="1.2" fill="#223A14"/>
<path d="M596.2 215L599.8 218.6M599.8 215L596.2 218.6" stroke="#222" stroke-width="0.8" fill="none"/>
<line x1="625" y1="46.3" x2="625" y2="140.3" stroke="#3a3a3a" stroke-width="0.8"/>
<line x1="621.7" y1="46.3" x2="628.3" y2="46.3" stroke="#3a3a3a" stroke-width="0.9"/>
<line x1="625" y1="204.2" x2="625" y2="242" stroke="#3a3a3a" stroke-width="0.9"/>
<line x1="621.7" y1="242" x2="628.3" y2="242" stroke="#3a3a3a" stroke-width="0.9"/>
<rect x="612.9" y="140.3" width="24.8" height="63.9" fill="#88B6E4" stroke="#34506E" stroke-width="0.9"/>
<line x1="612.9" y1="176.8" x2="637.7" y2="176.8" stroke="#34506E" stroke-width="1"/>
<circle cx="625" cy="61.6" r="1.1" fill="#3E5F84"/>
<circle cx="625" cy="71.6" r="1.1" fill="#3E5F84"/>
<circle cx="625" cy="78.3" r="1.1" fill="#3E5F84"/>
<circle cx="625" cy="82.4" r="1.1" fill="#3E5F84"/>
<circle cx="625" cy="86.4" r="1.1" fill="#3E5F84"/>
<circle cx="625" cy="91.3" r="1.1" fill="#3E5F84"/>
<circle cx="625" cy="95.9" r="1.1" fill="#3E5F84"/>
<circle cx="625" cy="97.8" r="1.1" fill="#3E5F84"/>
<circle cx="625" cy="113.4" r="1.1" fill="#3E5F84"/>
<circle cx="625" cy="124.2" r="1.1" fill="#3E5F84"/>
<circle cx="625" cy="130.2" r="1.1" fill="#3E5F84"/>
<circle cx="625" cy="135" r="1.1" fill="#3E5F84"/>
<circle cx="625" cy="138.9" r="1.1" fill="#3E5F84"/>
<circle cx="625" cy="142.4" r="1.1" fill="#3E5F84"/>
<circle cx="625" cy="144.4" r="1.1" fill="#3E5F84"/>
<circle cx="625" cy="146.5" r="1.1" fill="#3E5F84"/>
<circle cx="625" cy="148.6" r="1.1" fill="#3E5F84"/>
<circle cx="625" cy="150.6" r="1.1" fill="#3E5F84"/>
<circle cx="625" cy="158.2" r="1.1" fill="#3E5F84"/>
<circle cx="625" cy="163" r="1.1" fill="#3E5F84"/>
<circle cx="625" cy="165" r="1.1" fill="#3E5F84"/>
<circle cx="625" cy="171.2" r="1.1" fill="#3E5F84"/>
<circle cx="625" cy="176.7" r="1.1" fill="#3E5F84"/>
<circle cx="625" cy="181.5" r="1.1" fill="#3E5F84"/>
<circle cx="625" cy="186.4" r="1.1" fill="#3E5F84"/>
<circle cx="625" cy="188.4" r="1.1" fill="#3E5F84"/>
<circle cx="625" cy="190.5" r="1.1" fill="#3E5F84"/>
<circle cx="625" cy="192.5" r="1.1" fill="#3E5F84"/>
<circle cx="625" cy="198" r="1.1" fill="#3E5F84"/>
<circle cx="625" cy="201.5" r="1.1" fill="#3E5F84"/>
<circle cx="625" cy="210.8" r="1.1" fill="#3E5F84"/>
<circle cx="625" cy="219.6" r="1.1" fill="#3E5F84"/>
<circle cx="625" cy="230.2" r="1.1" fill="#3E5F84"/>
<circle cx="625" cy="240.8" r="1.1" fill="#3E5F84"/>
<path d="M623.2 166.2L626.8 169.8M626.8 166.2L623.2 169.8" stroke="#222" stroke-width="0.8" fill="none"/>
<line x1="653.1" y1="45.3" x2="653.1" y2="82.1" stroke="#3a3a3a" stroke-width="0.8"/>
<line x1="649.8" y1="45.3" x2="656.4" y2="45.3" stroke="#3a3a3a" stroke-width="0.9"/>
<line x1="653.1" y1="240.1" x2="653.1" y2="242" stroke="#3a3a3a" stroke-width="0.9"/>
<line x1="649.8" y1="242" x2="656.4" y2="242" stroke="#3a3a3a" stroke-width="0.9"/>
<rect x="640.4" y="82.1" width="24.9" height="158" fill="#F5984F" stroke="#6A4A3A" stroke-width="0.9"/>
<line x1="640.4" y1="122.1" x2="665.3" y2="122.1" stroke="#6A4A3A" stroke-width="1"/>
<circle cx="653.1" cy="66.2" r="1.1" fill="#A0461A"/>
<circle cx="653.1" cy="69.5" r="1.1" fill="#A0461A"/>
<circle cx="653.1" cy="72.5" r="1.1" fill="#A0461A"/>
<circle cx="653.1" cy="75.5" r="1.1" fill="#A0461A"/>
<circle cx="653.1" cy="78.5" r="1.1" fill="#A0461A"/>
<circle cx="653.1" cy="84" r="1.1" fill="#A0461A"/>
<circle cx="653.1" cy="87.6" r="1.1" fill="#A0461A"/>
<circle cx="653.1" cy="91.1" r="1.1" fill="#A0461A"/>
<circle cx="653.1" cy="93.5" r="1.1" fill="#A0461A"/>
<circle cx="653.1" cy="96.4" r="1.1" fill="#A0461A"/>
<circle cx="653.1" cy="147.4" r="1.1" fill="#A0461A"/>
<circle cx="653.1" cy="204.8" r="1.1" fill="#A0461A"/>
<circle cx="653.1" cy="223.2" r="1.1" fill="#A0461A"/>
<circle cx="653.1" cy="232" r="1.1" fill="#A0461A"/>
<circle cx="653.1" cy="234.5" r="1.1" fill="#A0461A"/>
<circle cx="653.1" cy="237" r="1.1" fill="#A0461A"/>
<circle cx="653.1" cy="239.5" r="1.1" fill="#A0461A"/>
<path d="M651.3 158L654.9 161.6M654.9 158L651.3 161.6" stroke="#222" stroke-width="0.8" fill="none"/>
<line x1="379.1" y1="5.3" x2="379.1" y2="243" stroke="#3a3a3a" stroke-width="1.3"/>
<line x1="379.1" y1="242.6" x2="680.4" y2="242.6" stroke="#8c8c8c" stroke-width="1.1"/>
<line x1="680.4" y1="5.2" x2="680.4" y2="243.1" stroke="#666" stroke-width="1.1"/>
<text x="402.6" y="258.6" font-size="11.7" fill="#262626" text-anchor="middle">27</text>
<text x="431" y="258.6" font-size="11.7" fill="#262626" text-anchor="middle">36</text>
<text x="459.8" y="258.6" font-size="11.7" fill="#262626" text-anchor="middle">13</text>
<text x="487.4" y="258.6" font-size="11.7" fill="#262626" text-anchor="middle">31</text>
<text x="514.3" y="258.6" font-size="11.7" fill="#262626" text-anchor="middle">24</text>
<text x="542.4" y="258.6" font-size="11.7" fill="#262626" text-anchor="middle">23</text>
<text x="569.7" y="258.6" font-size="11.7" fill="#262626" text-anchor="middle">4</text>
<text x="597.8" y="258.6" font-size="11.7" fill="#262626" text-anchor="middle">2</text>
<text x="624.8" y="258.6" font-size="11.7" fill="#262626" text-anchor="middle">22</text>
<text x="652.6" y="258.6" font-size="11.7" fill="#262626" text-anchor="middle">17</text>
<text x="349.5" y="258.9" font-size="12.5" font-weight="bold" fill="#111">b</text>
<text transform="translate(354.6,124) rotate(-90)" font-size="12.6" fill="#595959" text-anchor="middle">In µg/g</text>
<rect x="112.3" y="290.7" width="319.7" height="246.2" fill="#fff" stroke="none"/>
<line x1="108.9" y1="536.9" x2="112.3" y2="536.9" stroke="#333" stroke-width="0.9"/>
<line x1="109.6" y1="522.08" x2="112.3" y2="522.08" stroke="#333" stroke-width="0.9"/>
<line x1="109.6" y1="513.41" x2="112.3" y2="513.41" stroke="#333" stroke-width="0.9"/>
<line x1="109.6" y1="507.25" x2="112.3" y2="507.25" stroke="#333" stroke-width="0.9"/>
<line x1="109.6" y1="502.48" x2="112.3" y2="502.48" stroke="#333" stroke-width="0.9"/>
<line x1="109.6" y1="498.58" x2="112.3" y2="498.58" stroke="#333" stroke-width="0.9"/>
<line x1="109.6" y1="495.29" x2="112.3" y2="495.29" stroke="#333" stroke-width="0.9"/>
<line x1="109.6" y1="492.43" x2="112.3" y2="492.43" stroke="#333" stroke-width="0.9"/>
<line x1="109.6" y1="489.91" x2="112.3" y2="489.91" stroke="#333" stroke-width="0.9"/>
<line x1="108.9" y1="487.66" x2="112.3" y2="487.66" stroke="#333" stroke-width="0.9"/>
<line x1="109.6" y1="472.84" x2="112.3" y2="472.84" stroke="#333" stroke-width="0.9"/>
<line x1="109.6" y1="464.17" x2="112.3" y2="464.17" stroke="#333" stroke-width="0.9"/>
<line x1="109.6" y1="458.01" x2="112.3" y2="458.01" stroke="#333" stroke-width="0.9"/>
<line x1="109.6" y1="453.24" x2="112.3" y2="453.24" stroke="#333" stroke-width="0.9"/>
<line x1="109.6" y1="449.34" x2="112.3" y2="449.34" stroke="#333" stroke-width="0.9"/>
<line x1="109.6" y1="446.05" x2="112.3" y2="446.05" stroke="#333" stroke-width="0.9"/>
<line x1="109.6" y1="443.19" x2="112.3" y2="443.19" stroke="#333" stroke-width="0.9"/>
<line x1="109.6" y1="440.67" x2="112.3" y2="440.67" stroke="#333" stroke-width="0.9"/>
<line x1="108.9" y1="438.42" x2="112.3" y2="438.42" stroke="#333" stroke-width="0.9"/>
<line x1="109.6" y1="423.6" x2="112.3" y2="423.6" stroke="#333" stroke-width="0.9"/>
<line x1="109.6" y1="414.93" x2="112.3" y2="414.93" stroke="#333" stroke-width="0.9"/>
<line x1="109.6" y1="408.77" x2="112.3" y2="408.77" stroke="#333" stroke-width="0.9"/>
<line x1="109.6" y1="404" x2="112.3" y2="404" stroke="#333" stroke-width="0.9"/>
<line x1="109.6" y1="400.1" x2="112.3" y2="400.1" stroke="#333" stroke-width="0.9"/>
<line x1="109.6" y1="396.81" x2="112.3" y2="396.81" stroke="#333" stroke-width="0.9"/>
<line x1="109.6" y1="393.95" x2="112.3" y2="393.95" stroke="#333" stroke-width="0.9"/>
<line x1="109.6" y1="391.43" x2="112.3" y2="391.43" stroke="#333" stroke-width="0.9"/>
<line x1="108.9" y1="389.18" x2="112.3" y2="389.18" stroke="#333" stroke-width="0.9"/>
<line x1="109.6" y1="374.36" x2="112.3" y2="374.36" stroke="#333" stroke-width="0.9"/>
<line x1="109.6" y1="365.69" x2="112.3" y2="365.69" stroke="#333" stroke-width="0.9"/>
<line x1="109.6" y1="359.53" x2="112.3" y2="359.53" stroke="#333" stroke-width="0.9"/>
<line x1="109.6" y1="354.76" x2="112.3" y2="354.76" stroke="#333" stroke-width="0.9"/>
<line x1="109.6" y1="350.86" x2="112.3" y2="350.86" stroke="#333" stroke-width="0.9"/>
<line x1="109.6" y1="347.57" x2="112.3" y2="347.57" stroke="#333" stroke-width="0.9"/>
<line x1="109.6" y1="344.71" x2="112.3" y2="344.71" stroke="#333" stroke-width="0.9"/>
<line x1="109.6" y1="342.19" x2="112.3" y2="342.19" stroke="#333" stroke-width="0.9"/>
<line x1="108.9" y1="339.94" x2="112.3" y2="339.94" stroke="#333" stroke-width="0.9"/>
<line x1="109.6" y1="325.12" x2="112.3" y2="325.12" stroke="#333" stroke-width="0.9"/>
<line x1="109.6" y1="316.45" x2="112.3" y2="316.45" stroke="#333" stroke-width="0.9"/>
<line x1="109.6" y1="310.29" x2="112.3" y2="310.29" stroke="#333" stroke-width="0.9"/>
<line x1="109.6" y1="305.52" x2="112.3" y2="305.52" stroke="#333" stroke-width="0.9"/>
<line x1="109.6" y1="301.62" x2="112.3" y2="301.62" stroke="#333" stroke-width="0.9"/>
<line x1="109.6" y1="298.33" x2="112.3" y2="298.33" stroke="#333" stroke-width="0.9"/>
<line x1="109.6" y1="295.47" x2="112.3" y2="295.47" stroke="#333" stroke-width="0.9"/>
<line x1="109.6" y1="292.95" x2="112.3" y2="292.95" stroke="#333" stroke-width="0.9"/>
<line x1="108.9" y1="290.7" x2="112.3" y2="290.7" stroke="#333" stroke-width="0.9"/>
<line x1="112.3" y1="536.9" x2="112.3" y2="540.3" stroke="#333" stroke-width="0.9"/>
<line x1="126.05" y1="536.9" x2="126.05" y2="539.6" stroke="#333" stroke-width="0.9"/>
<line x1="134.09" y1="536.9" x2="134.09" y2="539.6" stroke="#333" stroke-width="0.9"/>
<line x1="139.8" y1="536.9" x2="139.8" y2="539.6" stroke="#333" stroke-width="0.9"/>
<line x1="144.22" y1="536.9" x2="144.22" y2="539.6" stroke="#333" stroke-width="0.9"/>
<line x1="147.84" y1="536.9" x2="147.84" y2="539.6" stroke="#333" stroke-width="0.9"/>
<line x1="150.9" y1="536.9" x2="150.9" y2="539.6" stroke="#333" stroke-width="0.9"/>
<line x1="153.55" y1="536.9" x2="153.55" y2="539.6" stroke="#333" stroke-width="0.9"/>
<line x1="155.88" y1="536.9" x2="155.88" y2="539.6" stroke="#333" stroke-width="0.9"/>
<line x1="157.97" y1="536.9" x2="157.97" y2="540.3" stroke="#333" stroke-width="0.9"/>
<line x1="171.72" y1="536.9" x2="171.72" y2="539.6" stroke="#333" stroke-width="0.9"/>
<line x1="179.76" y1="536.9" x2="179.76" y2="539.6" stroke="#333" stroke-width="0.9"/>
<line x1="185.47" y1="536.9" x2="185.47" y2="539.6" stroke="#333" stroke-width="0.9"/>
<line x1="189.89" y1="536.9" x2="189.89" y2="539.6" stroke="#333" stroke-width="0.9"/>
<line x1="193.51" y1="536.9" x2="193.51" y2="539.6" stroke="#333" stroke-width="0.9"/>
<line x1="196.57" y1="536.9" x2="196.57" y2="539.6" stroke="#333" stroke-width="0.9"/>
<line x1="199.22" y1="536.9" x2="199.22" y2="539.6" stroke="#333" stroke-width="0.9"/>
<line x1="201.55" y1="536.9" x2="201.55" y2="539.6" stroke="#333" stroke-width="0.9"/>
<line x1="203.64" y1="536.9" x2="203.64" y2="540.3" stroke="#333" stroke-width="0.9"/>
<line x1="217.39" y1="536.9" x2="217.39" y2="539.6" stroke="#333" stroke-width="0.9"/>
<line x1="225.43" y1="536.9" x2="225.43" y2="539.6" stroke="#333" stroke-width="0.9"/>
<line x1="231.14" y1="536.9" x2="231.14" y2="539.6" stroke="#333" stroke-width="0.9"/>
<line x1="235.57" y1="536.9" x2="235.57" y2="539.6" stroke="#333" stroke-width="0.9"/>
<line x1="239.18" y1="536.9" x2="239.18" y2="539.6" stroke="#333" stroke-width="0.9"/>
<line x1="242.24" y1="536.9" x2="242.24" y2="539.6" stroke="#333" stroke-width="0.9"/>
<line x1="244.89" y1="536.9" x2="244.89" y2="539.6" stroke="#333" stroke-width="0.9"/>
<line x1="247.22" y1="536.9" x2="247.22" y2="539.6" stroke="#333" stroke-width="0.9"/>
<line x1="249.31" y1="536.9" x2="249.31" y2="540.3" stroke="#333" stroke-width="0.9"/>
<line x1="263.06" y1="536.9" x2="263.06" y2="539.6" stroke="#333" stroke-width="0.9"/>
<line x1="271.11" y1="536.9" x2="271.11" y2="539.6" stroke="#333" stroke-width="0.9"/>
<line x1="276.81" y1="536.9" x2="276.81" y2="539.6" stroke="#333" stroke-width="0.9"/>
<line x1="281.24" y1="536.9" x2="281.24" y2="539.6" stroke="#333" stroke-width="0.9"/>
<line x1="284.85" y1="536.9" x2="284.85" y2="539.6" stroke="#333" stroke-width="0.9"/>
<line x1="287.91" y1="536.9" x2="287.91" y2="539.6" stroke="#333" stroke-width="0.9"/>
<line x1="290.56" y1="536.9" x2="290.56" y2="539.6" stroke="#333" stroke-width="0.9"/>
<line x1="292.9" y1="536.9" x2="292.9" y2="539.6" stroke="#333" stroke-width="0.9"/>
<line x1="294.99" y1="536.9" x2="294.99" y2="540.3" stroke="#333" stroke-width="0.9"/>
<line x1="308.73" y1="536.9" x2="308.73" y2="539.6" stroke="#333" stroke-width="0.9"/>
<line x1="316.78" y1="536.9" x2="316.78" y2="539.6" stroke="#333" stroke-width="0.9"/>
<line x1="322.48" y1="536.9" x2="322.48" y2="539.6" stroke="#333" stroke-width="0.9"/>
<line x1="326.91" y1="536.9" x2="326.91" y2="539.6" stroke="#333" stroke-width="0.9"/>
<line x1="330.52" y1="536.9" x2="330.52" y2="539.6" stroke="#333" stroke-width="0.9"/>
<line x1="333.58" y1="536.9" x2="333.58" y2="539.6" stroke="#333" stroke-width="0.9"/>
<line x1="336.23" y1="536.9" x2="336.23" y2="539.6" stroke="#333" stroke-width="0.9"/>
<line x1="338.57" y1="536.9" x2="338.57" y2="539.6" stroke="#333" stroke-width="0.9"/>
<line x1="340.66" y1="536.9" x2="340.66" y2="540.3" stroke="#333" stroke-width="0.9"/>
<line x1="354.41" y1="536.9" x2="354.41" y2="539.6" stroke="#333" stroke-width="0.9"/>
<line x1="362.45" y1="536.9" x2="362.45" y2="539.6" stroke="#333" stroke-width="0.9"/>
<line x1="368.15" y1="536.9" x2="368.15" y2="539.6" stroke="#333" stroke-width="0.9"/>
<line x1="372.58" y1="536.9" x2="372.58" y2="539.6" stroke="#333" stroke-width="0.9"/>
<line x1="376.2" y1="536.9" x2="376.2" y2="539.6" stroke="#333" stroke-width="0.9"/>
<line x1="379.25" y1="536.9" x2="379.25" y2="539.6" stroke="#333" stroke-width="0.9"/>
<line x1="381.9" y1="536.9" x2="381.9" y2="539.6" stroke="#333" stroke-width="0.9"/>
<line x1="384.24" y1="536.9" x2="384.24" y2="539.6" stroke="#333" stroke-width="0.9"/>
<line x1="386.33" y1="536.9" x2="386.33" y2="540.3" stroke="#333" stroke-width="0.9"/>
<line x1="400.08" y1="536.9" x2="400.08" y2="539.6" stroke="#333" stroke-width="0.9"/>
<line x1="408.12" y1="536.9" x2="408.12" y2="539.6" stroke="#333" stroke-width="0.9"/>
<line x1="413.83" y1="536.9" x2="413.83" y2="539.6" stroke="#333" stroke-width="0.9"/>
<line x1="418.25" y1="536.9" x2="418.25" y2="539.6" stroke="#333" stroke-width="0.9"/>
<line x1="421.87" y1="536.9" x2="421.87" y2="539.6" stroke="#333" stroke-width="0.9"/>
<line x1="424.93" y1="536.9" x2="424.93" y2="539.6" stroke="#333" stroke-width="0.9"/>
<line x1="427.57" y1="536.9" x2="427.57" y2="539.6" stroke="#333" stroke-width="0.9"/>
<line x1="429.91" y1="536.9" x2="429.91" y2="539.6" stroke="#333" stroke-width="0.9"/>
<line x1="432" y1="536.9" x2="432" y2="540.3" stroke="#333" stroke-width="0.9"/>
<rect x="112.3" y="290.7" width="319.7" height="246.2" fill="none" stroke="#2a2a2a" stroke-width="1.35"/>
<text x="101.6" y="294.4" font-size="10.4" fill="#404040" text-anchor="end">1000</text>
<text x="101.6" y="343.64" font-size="10.4" fill="#404040" text-anchor="end">100</text>
<text x="101.6" y="392.88" font-size="10.4" fill="#404040" text-anchor="end">10</text>
<text x="101.6" y="442.12" font-size="10.4" fill="#404040" text-anchor="end">1</text>
<text x="101.6" y="491.36" font-size="10.4" fill="#404040" text-anchor="end">0,1</text>
<text x="101.6" y="540.6" font-size="10.4" fill="#404040" text-anchor="end">0,01</text>
<text x="112.3" y="556.1" font-size="10.4" fill="#404040" text-anchor="middle">0,001</text>
<text x="157.97" y="556.1" font-size="10.4" fill="#404040" text-anchor="middle">0,01</text>
<text x="203.64" y="556.1" font-size="10.4" fill="#404040" text-anchor="middle">0,1</text>
<text x="249.31" y="556.1" font-size="10.4" fill="#404040" text-anchor="middle">1</text>
<text x="294.99" y="556.1" font-size="10.4" fill="#404040" text-anchor="middle">10</text>
<text x="340.66" y="556.1" font-size="10.4" fill="#404040" text-anchor="middle">100</text>
<text x="386.33" y="556.1" font-size="10.4" fill="#404040" text-anchor="middle">1000</text>
<text x="432" y="556.1" font-size="10.4" fill="#404040" text-anchor="middle">10000</text>
<text x="272.3" y="577.2" font-size="13.6" fill="#404040" text-anchor="middle">Ga/Ge</text>
<text transform="translate(71.4,413.3) rotate(-90)" font-size="14" fill="#404040" text-anchor="middle">In/Sn</text>
<text x="-0.3" y="580.7" font-size="12" font-weight="bold" fill="#111">c</text>
<circle cx="162.1" cy="441.2" r="3.7" fill="#4472C4" stroke="#3A62B8" stroke-width="0.9"/>
<circle cx="179.3" cy="465.6" r="3.7" fill="#4472C4" stroke="#3A62B8" stroke-width="0.9"/>
<circle cx="139.1" cy="478.7" r="3.7" fill="#4472C4" stroke="#3A62B8" stroke-width="0.9"/>
<circle cx="140.2" cy="480.3" r="3.7" fill="#4472C4" stroke="#3A62B8" stroke-width="0.9"/>
<circle cx="146.9" cy="489" r="3.7" fill="#4472C4" stroke="#3A62B8" stroke-width="0.9"/>
<circle cx="168.6" cy="486.6" r="3.7" fill="#4472C4" stroke="#3A62B8" stroke-width="0.9"/>
<circle cx="116.3" cy="492.8" r="3.7" fill="#4472C4" stroke="#3A62B8" stroke-width="0.9"/>
<circle cx="246.7" cy="461" r="3.7" fill="#4472C4" stroke="#3A62B8" stroke-width="0.9"/>
<text x="162.5" y="434.8" font-size="12.1" fill="#1a1a1a" text-anchor="middle">32</text>
<text x="181.5" y="457.1" font-size="12.1" fill="#1a1a1a" text-anchor="middle">8</text>
<text x="131.7" y="471.7" font-size="12.1" fill="#1a1a1a" text-anchor="middle">34</text>
<text x="140.2" y="506.7" font-size="12.1" fill="#1a1a1a" text-anchor="middle">35</text>
<text x="166.3" y="505" font-size="12.1" fill="#1a1a1a" text-anchor="middle">7</text>
<text x="121.9" y="511.9" font-size="12.1" fill="#1a1a1a" text-anchor="middle">33</text>
<text x="246.9" y="477.4" font-size="12.1" fill="#1a1a1a" text-anchor="middle">39</text>
<circle cx="287" cy="472.6" r="4.5" fill="#F7E32E" stroke="#1e1e3c" stroke-width="0.9"/>
<circle cx="318.5" cy="472.6" r="4.5" fill="#F7E32E" stroke="#1e1e3c" stroke-width="0.9"/>
<text x="287.8" y="488.8" font-size="12.1" fill="#1a1a1a" text-anchor="middle">5</text>
<text x="318.4" y="489.8" font-size="12.1" fill="#1a1a1a" text-anchor="middle">6</text>
<path d="M221.7 499.7L226.7 510.1L216.7 510.1Z" fill="#E8400C" stroke="#3a2a2a" stroke-width="0.9"/>
<path d="M254.2 427.4L259.2 437.8L249.2 437.8Z" fill="#E8400C" stroke="#3a2a2a" stroke-width="0.9"/>
<path d="M301.6 448.8L306.6 459.2L296.6 459.2Z" fill="#E8400C" stroke="#3a2a2a" stroke-width="0.9"/>
<path d="M344.6 452.1L349.6 462.5L339.6 462.5Z" fill="#E8400C" stroke="#3a2a2a" stroke-width="0.9"/>
<text x="221.7" y="523.1" font-size="12.1" fill="#1a1a1a" text-anchor="middle">23</text>
<text x="236.4" y="435.1" font-size="12.1" fill="#1a1a1a" text-anchor="middle">26</text>
<text x="289.4" y="457.6" font-size="12.1" fill="#1a1a1a" text-anchor="middle">31</text>
<text x="359.3" y="464.1" font-size="12.1" fill="#1a1a1a" text-anchor="middle">36</text>
<path d="M213.2 341.2L218.7 346.7L213.2 352.2L207.7 346.7Z" fill="#1DB348" stroke="#2a3a2a" stroke-width="0.9"/>
<path d="M296.7 340.4L302.2 345.9L296.7 351.4L291.2 345.9Z" fill="#1DB348" stroke="#2a3a2a" stroke-width="0.9"/>
<path d="M310.9 337.4L316.4 342.9L310.9 348.4L305.4 342.9Z" fill="#1DB348" stroke="#2a3a2a" stroke-width="0.9"/>
<path d="M335.6 325L341.1 330.5L335.6 336L330.1 330.5Z" fill="#1DB348" stroke="#2a3a2a" stroke-width="0.9"/>
<path d="M295.2 367.4L300.7 372.9L295.2 378.4L289.7 372.9Z" fill="#1DB348" stroke="#2a3a2a" stroke-width="0.9"/>
<path d="M340.5 366.1L346 371.6L340.5 377.1L335 371.6Z" fill="#1DB348" stroke="#2a3a2a" stroke-width="0.9"/>
<path d="M292.5 385.4L298 390.9L292.5 396.4L287 390.9Z" fill="#1DB348" stroke="#2a3a2a" stroke-width="0.9"/>
<path d="M239.8 395.8L245.3 401.3L239.8 406.8L234.3 401.3Z" fill="#1DB348" stroke="#2a3a2a" stroke-width="0.9"/>
<path d="M279 394.6L284.5 400.1L279 405.6L273.5 400.1Z" fill="#1DB348" stroke="#2a3a2a" stroke-width="0.9"/>
<path d="M294.3 396L299.8 401.5L294.3 407L288.8 401.5Z" fill="#1DB348" stroke="#2a3a2a" stroke-width="0.9"/>
<path d="M340.5 471.9L346 477.4L340.5 482.9L335 477.4Z" fill="#1DB348" stroke="#2a3a2a" stroke-width="0.9"/>
<path d="M293.4 312.9L298.7 318.2L293.4 323.5L288.1 318.2Z" fill="#000"/>
<path d="M328.1 309.7L333.4 315L328.1 320.3L322.8 315Z" fill="#000"/>
<path d="M347.4 302.8L352.7 308.1L347.4 313.4L342.1 308.1Z" fill="#000"/>
<path d="M381.4 360.3L386.7 365.6L381.4 370.9L376.1 365.6Z" fill="#000"/>
<path d="M326.2 368.7L331.5 374L326.2 379.3L320.9 374Z" fill="#000"/>
<path d="M282 378.4L287.3 383.7L282 389L276.7 383.7Z" fill="#000"/>
<path d="M308.7 382L314 387.3L308.7 392.6L303.4 387.3Z" fill="#000"/>
<path d="M340.1 420.7L345.4 426L340.1 431.3L334.8 426Z" fill="#000"/>
<path d="M312.2 441.6L317.5 446.9L312.2 452.2L306.9 446.9Z" fill="#000"/>
<path d="M337 465.2L342.3 470.5L337 475.8L331.7 470.5Z" fill="#000"/>
<path d="M340.5 471.9L346 477.4L340.5 482.9L335 477.4Z" fill="#1DB348" stroke="#2a3a2a" stroke-width="0.9"/>
<text x="292.4" y="308.9" font-size="12.1" fill="#1a1a1a" text-anchor="middle">17</text>
<text x="311.9" y="334.9" font-size="12.1" fill="#1a1a1a" text-anchor="middle">22</text>
<text x="328.1" y="307.3" font-size="12.1" fill="#1a1a1a" text-anchor="middle">26</text>
<text x="357.7" y="304.3" font-size="12.1" fill="#1a1a1a" text-anchor="middle">26</text>
<text x="381" y="356.9" font-size="12.1" fill="#1a1a1a" text-anchor="middle">27</text>
<text x="317.7" y="371.5" font-size="12.1" fill="#1a1a1a" text-anchor="middle">26</text>
<text x="341.5" y="364.8" font-size="12.1" fill="#1a1a1a" text-anchor="middle">4</text>
<text x="270.6" y="380.7" font-size="12.1" fill="#1a1a1a" text-anchor="middle">24</text>
<text x="317.6" y="402.3" font-size="12.1" fill="#1a1a1a" text-anchor="middle">27</text>
<text x="294.9" y="419.1" font-size="12.1" fill="#1a1a1a" text-anchor="middle">2</text>
<text x="338.5" y="418.1" font-size="12.1" fill="#1a1a1a" text-anchor="middle">26</text>
<text x="312.2" y="438.1" font-size="12.1" fill="#1a1a1a" text-anchor="middle">26</text>
<text x="326.7" y="464.1" font-size="12.1" fill="#1a1a1a" text-anchor="middle">26</text>
<path d="M250.8 324.9H261.6M256.2 319.5V330.3" stroke="#111" stroke-width="1.9" fill="none"/>
<path d="M382.5 397.5H393.3M387.9 392.1V402.9" stroke="#111" stroke-width="1.9" fill="none"/>
<path d="M400.9 406.3H411.7M406.3 400.9V411.7" stroke="#111" stroke-width="1.9" fill="none"/>
<path d="M354.9 436.9H365.7M360.3 431.5V442.3" stroke="#111" stroke-width="1.9" fill="none"/>
<text x="250.2" y="342.6" font-size="12.1" fill="#1a1a1a" text-anchor="middle">13</text>
<text x="406.9" y="397.3" font-size="12.1" fill="#1a1a1a" text-anchor="middle">11</text>
<text x="362.3" y="428" font-size="12.1" fill="#1a1a1a" text-anchor="middle">21</text>
<rect x="457.1" y="287.6" width="174.6" height="246.8" fill="#fff" stroke="#333" stroke-width="1.1"/>
<circle cx="465.8" cy="300.8" r="3.6" fill="#4472C4" stroke="#3A62B8" stroke-width="0.9"/>
<text x="472.3" y="304.4" font-size="10.7" fill="#333" textLength="88.7" lengthAdjust="spacingAndGlyphs">Bleiberg-Typ Pb-Zn</text>
<circle cx="465.8" cy="341.9" r="3.7" fill="#F7E32E" stroke="#1e1e3c" stroke-width="0.9"/>
<text x="472.3" y="345.2" font-size="10.7" fill="#333" textLength="126.9" lengthAdjust="spacingAndGlyphs">Brennermesozoikum Pb-Zn</text>
<path d="M465.8 379.7L469.3 383.2L465.8 386.7L462.3 383.2Z" fill="#000"/>
<text x="472.3" y="386.8" font-size="10.7" fill="#333" textLength="128" lengthAdjust="spacingAndGlyphs">Stratiform Drauzug-Gurktal</text>
<text x="472.3" y="401.2" font-size="10.7" fill="#333" textLength="67.3" lengthAdjust="spacingAndGlyphs">Deckensystem</text>
<path d="M465.8 420.8L469.4 424.4L465.8 428L462.2 424.4Z" fill="#1DB348" stroke="#2a3a2a" stroke-width="0.9"/>
<text x="472.3" y="427.7" font-size="10.7" fill="#333" textLength="135" lengthAdjust="spacingAndGlyphs">Stratiform Koralpe-Wölz und</text>
<text x="472.3" y="443" font-size="10.7" fill="#333" textLength="154.4" lengthAdjust="spacingAndGlyphs">Ötztal-Bundschuh Deckensystem</text>
<path d="M465.8 462.6L469.3 469.4L462.3 469.4Z" fill="#E8400C" stroke="#3a2a2a" stroke-width="0.9"/>
<text x="472.3" y="469.3" font-size="10.7" fill="#333" textLength="124.7" lengthAdjust="spacingAndGlyphs">Gangvererzungen Ostalpin</text>
<path d="M462 506.8H469.6M465.8 503V510.6" stroke="#111" stroke-width="1.7" fill="none"/>
<text x="472.3" y="510.1" font-size="10.7" fill="#333" textLength="101.7" lengthAdjust="spacingAndGlyphs">Stratiform und Gänge</text>
<text x="472.3" y="524.8" font-size="10.7" fill="#333" textLength="72.8" lengthAdjust="spacingAndGlyphs">Subpenninikum</text>
</svg></body></html>
